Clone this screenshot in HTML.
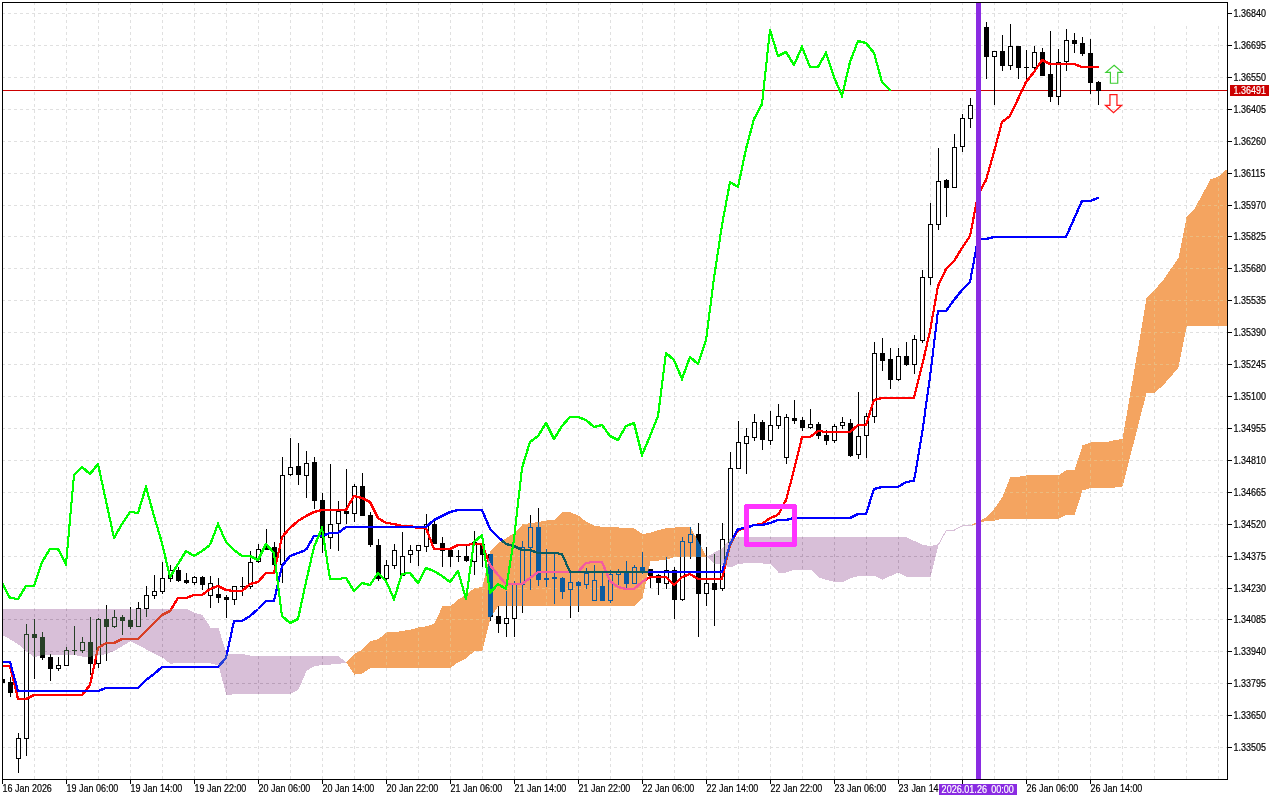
<!DOCTYPE html>
<html><head><meta charset="utf-8"><title>GBPUSD H1 Ichimoku</title>
<style>
html,body{margin:0;padding:0;background:#fff;width:1280px;height:800px;overflow:hidden}
svg{position:absolute;left:0;top:0;display:block}
text{font-family:"Liberation Sans",sans-serif;font-size:10.4px;fill:#000;stroke:#000;stroke-width:0.2px}
.w{fill:#fff}
.wt{fill:#fff;stroke:#fff}
</style></head><body>
<svg width="1280" height="800" viewBox="0 0 1280 800">
<defs><clipPath id="cp"><rect x="3" y="3" width="1224" height="776"/></clipPath><clipPath id="oc"><polygon points="346.5,662.5 354.5,653.5 362.5,649.5 370.5,641 378.5,639 386.5,632.5 394.5,632 402.5,631 410.5,629.5 418.5,627.5 426.5,626.25 434.5,623.5 442.5,606 450.5,606 458.5,599.5 466.5,594.5 474.5,588 482.5,587 490.5,551 498.5,543 506.5,538 514.5,533 522.5,524.5 530.5,523 538.5,522 546.5,520.5 554.5,519.5 562.5,511.5 570.5,512.5 578.5,515.5 586.5,522 594.5,526 602.5,526.75 610.5,527 618.5,527.5 626.5,527.75 634.5,528.5 642.5,534 650.5,532.75 658.5,530 666.5,528 674.5,527.5 682.5,527 690.5,527 698.5,542 706.5,556.5 706.5,556.5 698.5,557 690.5,557 682.5,557 674.5,557 666.5,559.75 658.5,560.5 650.5,561 642.5,598 634.5,605.75 626.5,606 618.5,606 610.5,606 602.5,606 594.5,606 586.5,606 578.5,606 570.5,606 562.5,606 554.5,606 546.5,606 538.5,606 530.5,606 522.5,606 514.5,606 506.5,606 498.5,606 490.5,617.5 482.5,650.5 474.5,651 466.5,658 458.5,662 450.5,667.75 442.5,667.75 434.5,667.75 426.5,667.75 418.5,667.75 410.5,667.75 402.5,667.75 394.5,667.75 386.5,667.75 378.5,667.75 370.5,668 362.5,673.5 354.5,674.5 346.5,662.5"/><polygon points="970.5,525.5 978.5,521 986.5,517 994.5,508.5 1002.5,497 1010.5,477 1018.5,476.75 1026.5,475.4 1034.5,475.4 1042.5,475.4 1050.5,475.4 1058.5,475.25 1066.5,470.25 1074.5,470 1082.5,445.5 1090.5,442.5 1098.5,442.25 1106.5,442.25 1114.5,440 1122.5,439 1130.5,392.3 1138.5,345.7 1146.5,298.5 1154.5,290 1162.5,281 1170.5,269.5 1178.5,258 1186.5,217.5 1194.5,209 1202.5,194 1210.5,179.5 1218.5,176.5 1226.5,169.5 1234.5,163 1234.5,326 1226.5,326 1218.5,326 1210.5,326 1202.5,326 1194.5,326 1186.5,326.5 1178.5,367.5 1170.5,377 1162.5,386 1154.5,392.6 1146.5,393 1138.5,424 1130.5,455.3 1122.5,486.5 1114.5,487.5 1106.5,487.75 1098.5,488 1090.5,488 1082.5,490.5 1074.5,514.75 1066.5,515 1058.5,518.75 1050.5,518.75 1042.5,518.75 1034.5,518.75 1026.5,518.75 1018.5,518.75 1010.5,518.75 1002.5,518.75 994.5,520.6 986.5,520.75 978.5,523.5 970.5,525.5"/></clipPath></defs>
<rect x="0" y="0" width="1280" height="800" fill="#fff"/>
<g clip-path="url(#cp)">
<rect x="0" y="0" width="1280" height="800" fill="#fff"/>
<g shape-rendering="crispEdges" stroke="#e0e0e0" stroke-width="1" stroke-dasharray="3 3" fill="none">
<path d="M2 13.5H1227"/><path d="M2 45.5H1227"/><path d="M2 77.5H1227"/><path d="M2 109.5H1227"/><path d="M2 141.5H1227"/><path d="M2 173.5H1227"/><path d="M2 205.5H1227"/><path d="M2 236.5H1227"/><path d="M2 268.5H1227"/><path d="M2 300.5H1227"/><path d="M2 332.5H1227"/><path d="M2 364.5H1227"/><path d="M2 396.5H1227"/><path d="M2 428.5H1227"/><path d="M2 460.5H1227"/><path d="M2 492.5H1227"/><path d="M2 524.5H1227"/><path d="M2 556.5H1227"/><path d="M2 588.5H1227"/><path d="M2 619.5H1227"/><path d="M2 651.5H1227"/><path d="M2 683.5H1227"/><path d="M2 715.5H1227"/><path d="M2 747.5H1227"/><path d="M34.5 2V779"/><path d="M66.5 2V779"/><path d="M98.5 2V779"/><path d="M130.5 2V779"/><path d="M162.5 2V779"/><path d="M194.5 2V779"/><path d="M226.5 2V779"/><path d="M258.5 2V779"/><path d="M290.5 2V779"/><path d="M322.5 2V779"/><path d="M354.5 2V779"/><path d="M386.5 2V779"/><path d="M418.5 2V779"/><path d="M450.5 2V779"/><path d="M482.5 2V779"/><path d="M514.5 2V779"/><path d="M546.5 2V779"/><path d="M578.5 2V779"/><path d="M610.5 2V779"/><path d="M642.5 2V779"/><path d="M674.5 2V779"/><path d="M706.5 2V779"/><path d="M738.5 2V779"/><path d="M770.5 2V779"/><path d="M802.5 2V779"/><path d="M834.5 2V779"/><path d="M866.5 2V779"/><path d="M898.5 2V779"/><path d="M930.5 2V779"/><path d="M962.5 2V779"/><path d="M994.5 2V779"/><path d="M1026.5 2V779"/><path d="M1058.5 2V779"/><path d="M1090.5 2V779"/><path d="M1122.5 2V779"/><path d="M1154.5 2V779"/><path d="M1186.5 2V779"/><path d="M1218.5 2V779"/>
</g>
<rect x="3" y="90" width="1224" height="1" fill="#cc0000" shape-rendering="crispEdges"/>
<g shape-rendering="crispEdges" fill="#000">
<rect x="2" y="679" width="1" height="4"/><rect x="0" y="679" width="5" height="4"/><rect x="10" y="677" width="1" height="20"/><rect x="8" y="682" width="5" height="11"/><rect x="18" y="733" width="1" height="40"/><rect x="16" y="738" width="5" height="21"/><rect fill="#fff" x="17" y="739" width="3" height="19"/><rect x="26" y="624" width="1" height="132"/><rect x="24" y="634" width="5" height="105"/><rect fill="#fff" x="25" y="635" width="3" height="103"/><rect x="34" y="619" width="1" height="60"/><rect x="32" y="634" width="5" height="4"/><rect x="42" y="632" width="1" height="28"/><rect x="40" y="637" width="5" height="21"/><rect x="50" y="654" width="1" height="27"/><rect x="48" y="657" width="5" height="12"/><rect x="58" y="657" width="1" height="14"/><rect x="56" y="665" width="5" height="4"/><rect fill="#fff" x="57" y="666" width="3" height="2"/><rect x="66" y="647" width="1" height="19"/><rect x="64" y="650" width="5" height="16"/><rect fill="#fff" x="65" y="651" width="3" height="14"/><rect x="74" y="626" width="1" height="29"/><rect x="72" y="650" width="5" height="1"/><rect x="82" y="637" width="1" height="16"/><rect x="80" y="642" width="5" height="9"/><rect fill="#fff" x="81" y="643" width="3" height="7"/><rect x="90" y="617" width="1" height="58"/><rect x="88" y="642" width="5" height="22"/><rect x="98" y="618" width="1" height="50"/><rect x="96" y="619" width="5" height="45"/><rect fill="#fff" x="97" y="620" width="3" height="43"/><rect x="106" y="605" width="1" height="56"/><rect x="104" y="619" width="5" height="8"/><rect x="114" y="610" width="1" height="18"/><rect x="112" y="617" width="5" height="10"/><rect fill="#fff" x="113" y="618" width="3" height="8"/><rect x="122" y="615" width="1" height="20"/><rect x="120" y="617" width="5" height="4"/><rect x="130" y="607" width="1" height="22"/><rect x="128" y="620" width="5" height="7"/><rect x="138" y="602" width="1" height="25"/><rect x="136" y="608" width="5" height="19"/><rect fill="#fff" x="137" y="609" width="3" height="17"/><rect x="146" y="586" width="1" height="31"/><rect x="144" y="595" width="5" height="14"/><rect fill="#fff" x="145" y="596" width="3" height="12"/><rect x="154" y="575" width="1" height="24"/><rect x="152" y="591" width="5" height="5"/><rect fill="#fff" x="153" y="592" width="3" height="3"/><rect x="162" y="562" width="1" height="32"/><rect x="160" y="578" width="5" height="14"/><rect fill="#fff" x="161" y="579" width="3" height="12"/><rect x="170" y="565" width="1" height="17"/><rect x="168" y="570" width="5" height="9"/><rect fill="#fff" x="169" y="571" width="3" height="7"/><rect x="178" y="567" width="1" height="15"/><rect x="176" y="570" width="5" height="11"/><rect x="186" y="573" width="1" height="11"/><rect x="184" y="580" width="5" height="3"/><rect x="194" y="576" width="1" height="9"/><rect x="192" y="577" width="5" height="6"/><rect fill="#fff" x="193" y="578" width="3" height="4"/><rect x="202" y="576" width="1" height="14"/><rect x="200" y="577" width="5" height="8"/><rect x="210" y="576" width="1" height="32"/><rect x="208" y="583" width="5" height="13"/><rect fill="#fff" x="209" y="584" width="3" height="11"/><rect x="218" y="578" width="1" height="25"/><rect x="216" y="594" width="5" height="4"/><rect x="226" y="595" width="1" height="23"/><rect x="224" y="597" width="5" height="3"/><rect x="234" y="586" width="1" height="19"/><rect x="232" y="586" width="5" height="14"/><rect fill="#fff" x="233" y="587" width="3" height="12"/><rect x="242" y="577" width="1" height="19"/><rect x="240" y="586" width="5" height="1"/><rect x="250" y="551" width="1" height="38"/><rect x="248" y="562" width="5" height="25"/><rect fill="#fff" x="249" y="563" width="3" height="23"/><rect x="258" y="544" width="1" height="19"/><rect x="256" y="549" width="5" height="13"/><rect fill="#fff" x="257" y="550" width="3" height="11"/><rect x="266" y="529" width="1" height="21"/><rect x="264" y="547" width="5" height="3"/><rect x="274" y="542" width="1" height="28"/><rect x="272" y="547" width="5" height="18"/><rect x="282" y="457" width="1" height="126"/><rect x="280" y="475" width="5" height="90"/><rect fill="#fff" x="281" y="476" width="3" height="88"/><rect x="290" y="438" width="1" height="38"/><rect x="288" y="467" width="5" height="8"/><rect fill="#fff" x="289" y="468" width="3" height="6"/><rect x="298" y="443" width="1" height="42"/><rect x="296" y="466" width="5" height="9"/><rect x="306" y="451" width="1" height="47"/><rect x="304" y="463" width="5" height="13"/><rect fill="#fff" x="305" y="464" width="3" height="11"/><rect x="314" y="457" width="1" height="52"/><rect x="312" y="462" width="5" height="39"/><rect x="322" y="493" width="1" height="60"/><rect x="320" y="500" width="5" height="38"/><rect x="330" y="464" width="1" height="85"/><rect x="328" y="524" width="5" height="14"/><rect fill="#fff" x="329" y="525" width="3" height="12"/><rect x="338" y="501" width="1" height="50"/><rect x="336" y="511" width="5" height="13"/><rect fill="#fff" x="337" y="512" width="3" height="11"/><rect x="346" y="469" width="1" height="55"/><rect x="344" y="511" width="5" height="3"/><rect x="354" y="484" width="1" height="38"/><rect x="352" y="486" width="5" height="28"/><rect fill="#fff" x="353" y="487" width="3" height="26"/><rect x="362" y="473" width="1" height="43"/><rect x="360" y="486" width="5" height="30"/><rect x="370" y="512" width="1" height="35"/><rect x="368" y="515" width="5" height="30"/><rect x="378" y="539" width="1" height="42"/><rect x="376" y="545" width="5" height="34"/><rect x="386" y="560" width="1" height="23"/><rect x="384" y="565" width="5" height="14"/><rect fill="#fff" x="385" y="566" width="3" height="12"/><rect x="394" y="544" width="1" height="25"/><rect x="392" y="550" width="5" height="16"/><rect fill="#fff" x="393" y="551" width="3" height="14"/><rect x="402" y="532" width="1" height="44"/><rect x="400" y="556" width="5" height="20"/><rect fill="#fff" x="401" y="557" width="3" height="18"/><rect x="410" y="545" width="1" height="18"/><rect x="408" y="550" width="5" height="5"/><rect fill="#fff" x="409" y="551" width="3" height="3"/><rect x="418" y="545" width="1" height="21"/><rect x="416" y="545" width="5" height="6"/><rect fill="#fff" x="417" y="546" width="3" height="4"/><rect x="426" y="514" width="1" height="38"/><rect x="424" y="524" width="5" height="23"/><rect fill="#fff" x="425" y="525" width="3" height="21"/><rect x="434" y="519" width="1" height="25"/><rect x="432" y="524" width="5" height="20"/><rect x="442" y="537" width="1" height="30"/><rect x="440" y="543" width="5" height="8"/><rect x="450" y="550" width="1" height="17"/><rect x="448" y="550" width="5" height="7"/><rect x="458" y="550" width="1" height="12"/><rect x="456" y="556" width="5" height="1"/><rect x="466" y="546" width="1" height="16"/><rect x="464" y="556" width="5" height="5"/><rect x="474" y="531" width="1" height="44"/><rect x="472" y="542" width="5" height="20"/><rect fill="#fff" x="473" y="543" width="3" height="18"/><rect x="482" y="538" width="1" height="29"/><rect x="480" y="544" width="5" height="11"/><rect x="490" y="554" width="1" height="67"/><rect x="488" y="554" width="5" height="63"/><rect x="498" y="606" width="1" height="27"/><rect x="496" y="616" width="5" height="8"/><rect x="506" y="591" width="1" height="46"/><rect x="504" y="618" width="5" height="6"/><rect fill="#fff" x="505" y="619" width="3" height="4"/><rect x="514" y="581" width="1" height="56"/><rect x="512" y="583" width="5" height="36"/><rect fill="#fff" x="513" y="584" width="3" height="34"/><rect x="522" y="541" width="1" height="72"/><rect x="520" y="547" width="5" height="38"/><rect fill="#fff" x="521" y="548" width="3" height="36"/><rect x="530" y="515" width="1" height="75"/><rect x="528" y="527" width="5" height="21"/><rect fill="#fff" x="529" y="528" width="3" height="19"/><rect x="538" y="508" width="1" height="78"/><rect x="536" y="527" width="5" height="53"/><rect x="546" y="549" width="1" height="38"/><rect x="544" y="578" width="5" height="2"/><rect x="554" y="554" width="1" height="50"/><rect x="552" y="577" width="5" height="2"/><rect x="562" y="577" width="1" height="22"/><rect x="560" y="578" width="5" height="14"/><rect x="570" y="573" width="1" height="45"/><rect x="568" y="582" width="5" height="8"/><rect fill="#fff" x="569" y="583" width="3" height="6"/><rect x="578" y="581" width="1" height="31"/><rect x="576" y="582" width="5" height="4"/><rect x="586" y="568" width="1" height="21"/><rect x="584" y="573" width="5" height="12"/><rect fill="#fff" x="585" y="574" width="3" height="10"/><rect x="594" y="565" width="1" height="36"/><rect x="592" y="580" width="5" height="21"/><rect fill="#fff" x="593" y="581" width="3" height="19"/><rect x="602" y="573" width="1" height="28"/><rect x="600" y="586" width="5" height="15"/><rect x="610" y="570" width="1" height="33"/><rect x="608" y="574" width="5" height="27"/><rect fill="#fff" x="609" y="575" width="3" height="25"/><rect x="618" y="569" width="1" height="16"/><rect x="616" y="572" width="5" height="3"/><rect fill="#fff" x="617" y="573" width="3" height="1"/><rect x="626" y="561" width="1" height="27"/><rect x="624" y="572" width="5" height="12"/><rect x="634" y="565" width="1" height="19"/><rect x="632" y="567" width="5" height="17"/><rect fill="#fff" x="633" y="568" width="3" height="15"/><rect x="642" y="552" width="1" height="22"/><rect x="640" y="567" width="5" height="5"/><rect x="650" y="569" width="1" height="19"/><rect x="648" y="569" width="5" height="7"/><rect x="658" y="574" width="1" height="21"/><rect x="656" y="575" width="5" height="8"/><rect x="666" y="557" width="1" height="32"/><rect x="664" y="570" width="5" height="14"/><rect fill="#fff" x="665" y="571" width="3" height="12"/><rect x="674" y="567" width="1" height="52"/><rect x="672" y="570" width="5" height="30"/><rect x="682" y="537" width="1" height="64"/><rect x="680" y="541" width="5" height="59"/><rect fill="#fff" x="681" y="542" width="3" height="57"/><rect x="690" y="527" width="1" height="32"/><rect x="688" y="534" width="5" height="9"/><rect fill="#fff" x="689" y="535" width="3" height="7"/><rect x="698" y="523" width="1" height="114"/><rect x="696" y="534" width="5" height="60"/><rect x="706" y="547" width="1" height="59"/><rect x="704" y="583" width="5" height="11"/><rect fill="#fff" x="705" y="584" width="3" height="9"/><rect x="714" y="554" width="1" height="72"/><rect x="712" y="583" width="5" height="7"/><rect x="722" y="523" width="1" height="68"/><rect x="720" y="539" width="5" height="50"/><rect fill="#fff" x="721" y="540" width="3" height="48"/><rect x="730" y="452" width="1" height="91"/><rect x="728" y="468" width="5" height="75"/><rect fill="#fff" x="729" y="469" width="3" height="73"/><rect x="738" y="421" width="1" height="48"/><rect x="736" y="442" width="5" height="27"/><rect fill="#fff" x="737" y="443" width="3" height="25"/><rect x="746" y="428" width="1" height="46"/><rect x="744" y="436" width="5" height="8"/><rect fill="#fff" x="745" y="437" width="3" height="6"/><rect x="754" y="414" width="1" height="27"/><rect x="752" y="422" width="5" height="16"/><rect fill="#fff" x="753" y="423" width="3" height="14"/><rect x="762" y="420" width="1" height="30"/><rect x="760" y="422" width="5" height="18"/><rect x="770" y="411" width="1" height="34"/><rect x="768" y="425" width="5" height="16"/><rect fill="#fff" x="769" y="426" width="3" height="14"/><rect x="778" y="404" width="1" height="25"/><rect x="776" y="416" width="5" height="10"/><rect fill="#fff" x="777" y="417" width="3" height="8"/><rect x="786" y="414" width="1" height="50"/><rect x="784" y="417" width="5" height="41"/><rect fill="#fff" x="785" y="418" width="3" height="39"/><rect x="794" y="400" width="1" height="24"/><rect x="792" y="418" width="5" height="3"/><rect x="802" y="417" width="1" height="14"/><rect x="800" y="420" width="5" height="8"/><rect x="810" y="409" width="1" height="20"/><rect x="808" y="424" width="5" height="4"/><rect fill="#fff" x="809" y="425" width="3" height="2"/><rect x="818" y="422" width="1" height="17"/><rect x="816" y="424" width="5" height="12"/><rect x="826" y="430" width="1" height="15"/><rect x="824" y="435" width="5" height="6"/><rect x="834" y="424" width="1" height="19"/><rect x="832" y="426" width="5" height="15"/><rect fill="#fff" x="833" y="427" width="3" height="13"/><rect x="842" y="417" width="1" height="12"/><rect x="840" y="422" width="5" height="4"/><rect fill="#fff" x="841" y="423" width="3" height="2"/><rect x="850" y="419" width="1" height="38"/><rect x="848" y="423" width="5" height="33"/><rect x="858" y="392" width="1" height="67"/><rect x="856" y="436" width="5" height="19"/><rect fill="#fff" x="857" y="437" width="3" height="17"/><rect x="866" y="413" width="1" height="45"/><rect x="864" y="416" width="5" height="20"/><rect fill="#fff" x="865" y="417" width="3" height="18"/><rect x="874" y="342" width="1" height="81"/><rect x="872" y="353" width="5" height="64"/><rect fill="#fff" x="873" y="354" width="3" height="62"/><rect x="882" y="338" width="1" height="33"/><rect x="880" y="353" width="5" height="8"/><rect x="890" y="348" width="1" height="41"/><rect x="888" y="359" width="5" height="21"/><rect x="898" y="348" width="1" height="33"/><rect x="896" y="356" width="5" height="24"/><rect fill="#fff" x="897" y="357" width="3" height="22"/><rect x="906" y="342" width="1" height="24"/><rect x="904" y="356" width="5" height="9"/><rect x="914" y="335" width="1" height="39"/><rect x="912" y="339" width="5" height="26"/><rect fill="#fff" x="913" y="340" width="3" height="24"/><rect x="922" y="270" width="1" height="73"/><rect x="920" y="277" width="5" height="64"/><rect fill="#fff" x="921" y="278" width="3" height="62"/><rect x="930" y="203" width="1" height="82"/><rect x="928" y="224" width="5" height="54"/><rect fill="#fff" x="929" y="225" width="3" height="52"/><rect x="938" y="148" width="1" height="82"/><rect x="936" y="181" width="5" height="44"/><rect fill="#fff" x="937" y="182" width="3" height="42"/><rect x="946" y="179" width="1" height="38"/><rect x="944" y="180" width="5" height="8"/><rect x="954" y="134" width="1" height="54"/><rect x="952" y="147" width="5" height="41"/><rect fill="#fff" x="953" y="148" width="3" height="39"/><rect x="962" y="114" width="1" height="38"/><rect x="960" y="118" width="5" height="29"/><rect fill="#fff" x="961" y="119" width="3" height="27"/><rect x="970" y="98" width="1" height="30"/><rect x="968" y="105" width="5" height="14"/><rect fill="#fff" x="969" y="106" width="3" height="12"/><rect x="978" y="25" width="1" height="85"/><rect x="976" y="30" width="5" height="76"/><rect fill="#fff" x="977" y="31" width="3" height="74"/><rect x="986" y="22" width="1" height="57"/><rect x="984" y="27" width="5" height="30"/><rect x="994" y="51" width="1" height="54"/><rect x="992" y="51" width="5" height="6"/><rect fill="#fff" x="993" y="52" width="3" height="4"/><rect x="1002" y="35" width="1" height="36"/><rect x="1000" y="51" width="5" height="15"/><rect x="1010" y="24" width="1" height="46"/><rect x="1008" y="46" width="5" height="20"/><rect fill="#fff" x="1009" y="47" width="3" height="18"/><rect x="1018" y="46" width="1" height="33"/><rect x="1016" y="46" width="5" height="22"/><rect x="1026" y="50" width="1" height="33"/><rect x="1024" y="67" width="5" height="1"/><rect x="1034" y="46" width="1" height="24"/><rect x="1032" y="52" width="5" height="16"/><rect fill="#fff" x="1033" y="53" width="3" height="14"/><rect x="1042" y="48" width="1" height="28"/><rect x="1040" y="52" width="5" height="24"/><rect x="1050" y="31" width="1" height="71"/><rect x="1048" y="74" width="5" height="23"/><rect x="1058" y="49" width="1" height="56"/><rect x="1056" y="62" width="5" height="35"/><rect fill="#fff" x="1057" y="63" width="3" height="33"/><rect x="1066" y="29" width="1" height="42"/><rect x="1064" y="40" width="5" height="22"/><rect fill="#fff" x="1065" y="41" width="3" height="20"/><rect x="1074" y="33" width="1" height="20"/><rect x="1072" y="40" width="5" height="4"/><rect x="1082" y="37" width="1" height="19"/><rect x="1080" y="43" width="5" height="11"/><rect x="1090" y="39" width="1" height="55"/><rect x="1088" y="53" width="5" height="30"/><rect x="1098" y="81" width="1" height="24"/><rect x="1096" y="82" width="5" height="9"/>
</g>
<g fill="none" stroke="#ff0000" stroke-width="1" stroke-linecap="square" stroke-linejoin="miter" shape-rendering="crispEdges" ><polyline points="1.5,665.5 9.5,665.5 17.5,698.5 25.5,698.5 33.5,694.5 41.5,694.5 49.5,694.5 57.5,694.5 65.5,694.5 73.5,694.5 81.5,694.5 89.5,684.5 97.5,647.5 105.5,642.5 113.5,642.5 121.5,638.5 129.5,638.5 137.5,638.5 145.5,630.5 153.5,622.5 161.5,614.5 169.5,610.5 177.5,597.5 185.5,597.5 193.5,594.5 201.5,594.5 209.5,588.5 217.5,585.5 225.5,589.5 233.5,590.5 241.5,590.5 249.5,583.5 257.5,581.5 265.5,572.5 273.5,572.5 281.5,536.5 289.5,527.5 297.5,520.5 305.5,515.5 313.5,511.5 321.5,509.5 329.5,509.5 337.5,509.5 345.5,509.5 353.5,495.5 361.5,497.5 369.5,501.5 377.5,517.5 385.5,522.5 393.5,523.5 401.5,525.5 409.5,525.5 417.5,527.5 425.5,527.5 433.5,548.5 441.5,548.5 449.5,548.5 457.5,544.5 465.5,544.5 473.5,543.5 481.5,543.5 489.5,564.5 497.5,574.5 505.5,583.5 513.5,583.5 521.5,583.5 529.5,577.5 537.5,571.5 545.5,571.5 553.5,571.5 561.5,571.5 569.5,571.5 577.5,571.5 585.5,562.5 593.5,561.5 601.5,561.5 609.5,580.5 617.5,586.5 625.5,588.5 633.5,588.5 641.5,581.5 649.5,576.5 657.5,576.5 665.5,576.5 673.5,584.5 681.5,576.5 689.5,573.5 697.5,578.5 705.5,578.5 713.5,578.5 721.5,578.5 729.5,544.5 737.5,529.5 745.5,527.5 753.5,524.5 761.5,523.5 769.5,517.5 777.5,514.5 785.5,499.5 793.5,469.5 801.5,436.5 809.5,436.5 817.5,430.5 825.5,431.5 833.5,431.5 841.5,431.5 849.5,431.5 857.5,424.5 865.5,424.5 873.5,399.5 881.5,397.5 889.5,397.5 897.5,397.5 905.5,397.5 913.5,397.5 921.5,365.5 929.5,330.5 937.5,285.5 945.5,268.5 953.5,260.5 961.5,247.5 969.5,235.5 977.5,194.5 985.5,179.5 993.5,151.5 1001.5,121.5 1009.5,115.5 1017.5,98.5 1025.5,81.5 1033.5,71.5 1041.5,59.5 1049.5,63.5 1057.5,63.5 1065.5,63.5 1073.5,63.5 1081.5,66.5 1089.5,66.5 1097.5,66.5"/><polyline points="2.5,665.5 10.5,665.5 18.5,698.5 26.5,698.5 34.5,694.5 42.5,694.5 50.5,694.5 58.5,694.5 66.5,694.5 74.5,694.5 82.5,694.5 90.5,684.5 98.5,647.5 106.5,642.5 114.5,642.5 122.5,638.5 130.5,638.5 138.5,638.5 146.5,630.5 154.5,622.5 162.5,614.5 170.5,610.5 178.5,597.5 186.5,597.5 194.5,594.5 202.5,594.5 210.5,588.5 218.5,585.5 226.5,589.5 234.5,590.5 242.5,590.5 250.5,583.5 258.5,581.5 266.5,572.5 274.5,572.5 282.5,536.5 290.5,527.5 298.5,520.5 306.5,515.5 314.5,511.5 322.5,509.5 330.5,509.5 338.5,509.5 346.5,509.5 354.5,495.5 362.5,497.5 370.5,501.5 378.5,517.5 386.5,522.5 394.5,523.5 402.5,525.5 410.5,525.5 418.5,527.5 426.5,527.5 434.5,548.5 442.5,548.5 450.5,548.5 458.5,544.5 466.5,544.5 474.5,543.5 482.5,543.5 490.5,564.5 498.5,574.5 506.5,583.5 514.5,583.5 522.5,583.5 530.5,577.5 538.5,571.5 546.5,571.5 554.5,571.5 562.5,571.5 570.5,571.5 578.5,571.5 586.5,562.5 594.5,561.5 602.5,561.5 610.5,580.5 618.5,586.5 626.5,588.5 634.5,588.5 642.5,581.5 650.5,576.5 658.5,576.5 666.5,576.5 674.5,584.5 682.5,576.5 690.5,573.5 698.5,578.5 706.5,578.5 714.5,578.5 722.5,578.5 730.5,544.5 738.5,529.5 746.5,527.5 754.5,524.5 762.5,523.5 770.5,517.5 778.5,514.5 786.5,499.5 794.5,469.5 802.5,436.5 810.5,436.5 818.5,430.5 826.5,431.5 834.5,431.5 842.5,431.5 850.5,431.5 858.5,424.5 866.5,424.5 874.5,399.5 882.5,397.5 890.5,397.5 898.5,397.5 906.5,397.5 914.5,397.5 922.5,365.5 930.5,330.5 938.5,285.5 946.5,268.5 954.5,260.5 962.5,247.5 970.5,235.5 978.5,194.5 986.5,179.5 994.5,151.5 1002.5,121.5 1010.5,115.5 1018.5,98.5 1026.5,81.5 1034.5,71.5 1042.5,59.5 1050.5,63.5 1058.5,63.5 1066.5,63.5 1074.5,63.5 1082.5,66.5 1090.5,66.5 1098.5,66.5"/><polyline points="1.5,666.5 9.5,666.5 17.5,699.5 25.5,699.5 33.5,695.5 41.5,695.5 49.5,695.5 57.5,695.5 65.5,695.5 73.5,695.5 81.5,695.5 89.5,685.5 97.5,648.5 105.5,643.5 113.5,643.5 121.5,639.5 129.5,639.5 137.5,639.5 145.5,631.5 153.5,623.5 161.5,615.5 169.5,611.5 177.5,598.5 185.5,598.5 193.5,595.5 201.5,595.5 209.5,589.5 217.5,586.5 225.5,590.5 233.5,591.5 241.5,591.5 249.5,584.5 257.5,582.5 265.5,573.5 273.5,573.5 281.5,537.5 289.5,528.5 297.5,521.5 305.5,516.5 313.5,512.5 321.5,510.5 329.5,510.5 337.5,510.5 345.5,510.5 353.5,496.5 361.5,498.5 369.5,502.5 377.5,518.5 385.5,523.5 393.5,524.5 401.5,526.5 409.5,526.5 417.5,528.5 425.5,528.5 433.5,549.5 441.5,549.5 449.5,549.5 457.5,545.5 465.5,545.5 473.5,544.5 481.5,544.5 489.5,565.5 497.5,575.5 505.5,584.5 513.5,584.5 521.5,584.5 529.5,578.5 537.5,572.5 545.5,572.5 553.5,572.5 561.5,572.5 569.5,572.5 577.5,572.5 585.5,563.5 593.5,562.5 601.5,562.5 609.5,581.5 617.5,587.5 625.5,589.5 633.5,589.5 641.5,582.5 649.5,577.5 657.5,577.5 665.5,577.5 673.5,585.5 681.5,577.5 689.5,574.5 697.5,579.5 705.5,579.5 713.5,579.5 721.5,579.5 729.5,545.5 737.5,530.5 745.5,528.5 753.5,525.5 761.5,524.5 769.5,518.5 777.5,515.5 785.5,500.5 793.5,470.5 801.5,437.5 809.5,437.5 817.5,431.5 825.5,432.5 833.5,432.5 841.5,432.5 849.5,432.5 857.5,425.5 865.5,425.5 873.5,400.5 881.5,398.5 889.5,398.5 897.5,398.5 905.5,398.5 913.5,398.5 921.5,366.5 929.5,331.5 937.5,286.5 945.5,269.5 953.5,261.5 961.5,248.5 969.5,236.5 977.5,195.5 985.5,180.5 993.5,152.5 1001.5,122.5 1009.5,116.5 1017.5,99.5 1025.5,82.5 1033.5,72.5 1041.5,60.5 1049.5,64.5 1057.5,64.5 1065.5,64.5 1073.5,64.5 1081.5,67.5 1089.5,67.5 1097.5,67.5"/><polyline points="2.5,666.5 10.5,666.5 18.5,699.5 26.5,699.5 34.5,695.5 42.5,695.5 50.5,695.5 58.5,695.5 66.5,695.5 74.5,695.5 82.5,695.5 90.5,685.5 98.5,648.5 106.5,643.5 114.5,643.5 122.5,639.5 130.5,639.5 138.5,639.5 146.5,631.5 154.5,623.5 162.5,615.5 170.5,611.5 178.5,598.5 186.5,598.5 194.5,595.5 202.5,595.5 210.5,589.5 218.5,586.5 226.5,590.5 234.5,591.5 242.5,591.5 250.5,584.5 258.5,582.5 266.5,573.5 274.5,573.5 282.5,537.5 290.5,528.5 298.5,521.5 306.5,516.5 314.5,512.5 322.5,510.5 330.5,510.5 338.5,510.5 346.5,510.5 354.5,496.5 362.5,498.5 370.5,502.5 378.5,518.5 386.5,523.5 394.5,524.5 402.5,526.5 410.5,526.5 418.5,528.5 426.5,528.5 434.5,549.5 442.5,549.5 450.5,549.5 458.5,545.5 466.5,545.5 474.5,544.5 482.5,544.5 490.5,565.5 498.5,575.5 506.5,584.5 514.5,584.5 522.5,584.5 530.5,578.5 538.5,572.5 546.5,572.5 554.5,572.5 562.5,572.5 570.5,572.5 578.5,572.5 586.5,563.5 594.5,562.5 602.5,562.5 610.5,581.5 618.5,587.5 626.5,589.5 634.5,589.5 642.5,582.5 650.5,577.5 658.5,577.5 666.5,577.5 674.5,585.5 682.5,577.5 690.5,574.5 698.5,579.5 706.5,579.5 714.5,579.5 722.5,579.5 730.5,545.5 738.5,530.5 746.5,528.5 754.5,525.5 762.5,524.5 770.5,518.5 778.5,515.5 786.5,500.5 794.5,470.5 802.5,437.5 810.5,437.5 818.5,431.5 826.5,432.5 834.5,432.5 842.5,432.5 850.5,432.5 858.5,425.5 866.5,425.5 874.5,400.5 882.5,398.5 890.5,398.5 898.5,398.5 906.5,398.5 914.5,398.5 922.5,366.5 930.5,331.5 938.5,286.5 946.5,269.5 954.5,261.5 962.5,248.5 970.5,236.5 978.5,195.5 986.5,180.5 994.5,152.5 1002.5,122.5 1010.5,116.5 1018.5,99.5 1026.5,82.5 1034.5,72.5 1042.5,60.5 1050.5,64.5 1058.5,64.5 1066.5,64.5 1074.5,64.5 1082.5,67.5 1090.5,67.5 1098.5,67.5"/></g>
<g fill="none" stroke="#0000ff" stroke-width="1" stroke-linecap="square" stroke-linejoin="miter" shape-rendering="crispEdges" ><polyline points="1.5,661.5 9.5,661.5 17.5,690.5 25.5,690.5 33.5,690.5 41.5,690.5 49.5,690.5 57.5,690.5 65.5,690.5 73.5,690.5 81.5,690.5 89.5,690.5 97.5,690.5 105.5,687.5 113.5,687.5 121.5,687.5 129.5,687.5 137.5,687.5 145.5,679.5 153.5,673.5 161.5,666.5 169.5,666.5 177.5,666.5 185.5,666.5 193.5,666.5 201.5,666.5 209.5,666.5 217.5,666.5 225.5,657.5 233.5,620.5 241.5,620.5 249.5,615.5 257.5,608.5 265.5,600.5 273.5,600.5 281.5,565.5 289.5,555.5 297.5,552.5 305.5,549.5 313.5,535.5 321.5,535.5 329.5,532.5 337.5,532.5 345.5,526.5 353.5,526.5 361.5,526.5 369.5,526.5 377.5,526.5 385.5,526.5 393.5,526.5 401.5,526.5 409.5,526.5 417.5,526.5 425.5,526.5 433.5,519.5 441.5,515.5 449.5,511.5 457.5,509.5 465.5,509.5 473.5,509.5 481.5,509.5 489.5,528.5 497.5,536.5 505.5,543.5 513.5,545.5 521.5,549.5 529.5,549.5 537.5,552.5 545.5,552.5 553.5,552.5 561.5,553.5 569.5,571.5 577.5,571.5 585.5,571.5 593.5,571.5 601.5,571.5 609.5,571.5 617.5,571.5 625.5,571.5 633.5,571.5 641.5,571.5 649.5,571.5 657.5,571.5 665.5,571.5 673.5,571.5 681.5,571.5 689.5,571.5 697.5,571.5 705.5,571.5 713.5,571.5 721.5,571.5 729.5,543.5 737.5,528.5 745.5,527.5 753.5,524.5 761.5,524.5 769.5,522.5 777.5,519.5 785.5,519.5 793.5,517.5 801.5,517.5 809.5,517.5 817.5,517.5 825.5,517.5 833.5,517.5 841.5,517.5 849.5,517.5 857.5,513.5 865.5,513.5 873.5,488.5 881.5,486.5 889.5,486.5 897.5,486.5 905.5,481.5 913.5,480.5 921.5,433.5 929.5,376.5 937.5,310.5 945.5,310.5 953.5,299.5 961.5,289.5 969.5,281.5 977.5,238.5 985.5,238.5 993.5,236.5 1001.5,236.5 1009.5,236.5 1017.5,236.5 1025.5,236.5 1033.5,236.5 1041.5,236.5 1049.5,236.5 1057.5,236.5 1065.5,236.5 1073.5,218.5 1081.5,200.5 1089.5,200.5 1097.5,197.5"/><polyline points="2.5,661.5 10.5,661.5 18.5,690.5 26.5,690.5 34.5,690.5 42.5,690.5 50.5,690.5 58.5,690.5 66.5,690.5 74.5,690.5 82.5,690.5 90.5,690.5 98.5,690.5 106.5,687.5 114.5,687.5 122.5,687.5 130.5,687.5 138.5,687.5 146.5,679.5 154.5,673.5 162.5,666.5 170.5,666.5 178.5,666.5 186.5,666.5 194.5,666.5 202.5,666.5 210.5,666.5 218.5,666.5 226.5,657.5 234.5,620.5 242.5,620.5 250.5,615.5 258.5,608.5 266.5,600.5 274.5,600.5 282.5,565.5 290.5,555.5 298.5,552.5 306.5,549.5 314.5,535.5 322.5,535.5 330.5,532.5 338.5,532.5 346.5,526.5 354.5,526.5 362.5,526.5 370.5,526.5 378.5,526.5 386.5,526.5 394.5,526.5 402.5,526.5 410.5,526.5 418.5,526.5 426.5,526.5 434.5,519.5 442.5,515.5 450.5,511.5 458.5,509.5 466.5,509.5 474.5,509.5 482.5,509.5 490.5,528.5 498.5,536.5 506.5,543.5 514.5,545.5 522.5,549.5 530.5,549.5 538.5,552.5 546.5,552.5 554.5,552.5 562.5,553.5 570.5,571.5 578.5,571.5 586.5,571.5 594.5,571.5 602.5,571.5 610.5,571.5 618.5,571.5 626.5,571.5 634.5,571.5 642.5,571.5 650.5,571.5 658.5,571.5 666.5,571.5 674.5,571.5 682.5,571.5 690.5,571.5 698.5,571.5 706.5,571.5 714.5,571.5 722.5,571.5 730.5,543.5 738.5,528.5 746.5,527.5 754.5,524.5 762.5,524.5 770.5,522.5 778.5,519.5 786.5,519.5 794.5,517.5 802.5,517.5 810.5,517.5 818.5,517.5 826.5,517.5 834.5,517.5 842.5,517.5 850.5,517.5 858.5,513.5 866.5,513.5 874.5,488.5 882.5,486.5 890.5,486.5 898.5,486.5 906.5,481.5 914.5,480.5 922.5,433.5 930.5,376.5 938.5,310.5 946.5,310.5 954.5,299.5 962.5,289.5 970.5,281.5 978.5,238.5 986.5,238.5 994.5,236.5 1002.5,236.5 1010.5,236.5 1018.5,236.5 1026.5,236.5 1034.5,236.5 1042.5,236.5 1050.5,236.5 1058.5,236.5 1066.5,236.5 1074.5,218.5 1082.5,200.5 1090.5,200.5 1098.5,197.5"/><polyline points="1.5,662.5 9.5,662.5 17.5,691.5 25.5,691.5 33.5,691.5 41.5,691.5 49.5,691.5 57.5,691.5 65.5,691.5 73.5,691.5 81.5,691.5 89.5,691.5 97.5,691.5 105.5,688.5 113.5,688.5 121.5,688.5 129.5,688.5 137.5,688.5 145.5,680.5 153.5,674.5 161.5,667.5 169.5,667.5 177.5,667.5 185.5,667.5 193.5,667.5 201.5,667.5 209.5,667.5 217.5,667.5 225.5,658.5 233.5,621.5 241.5,621.5 249.5,616.5 257.5,609.5 265.5,601.5 273.5,601.5 281.5,566.5 289.5,556.5 297.5,553.5 305.5,550.5 313.5,536.5 321.5,536.5 329.5,533.5 337.5,533.5 345.5,527.5 353.5,527.5 361.5,527.5 369.5,527.5 377.5,527.5 385.5,527.5 393.5,527.5 401.5,527.5 409.5,527.5 417.5,527.5 425.5,527.5 433.5,520.5 441.5,516.5 449.5,512.5 457.5,510.5 465.5,510.5 473.5,510.5 481.5,510.5 489.5,529.5 497.5,537.5 505.5,544.5 513.5,546.5 521.5,550.5 529.5,550.5 537.5,553.5 545.5,553.5 553.5,553.5 561.5,554.5 569.5,572.5 577.5,572.5 585.5,572.5 593.5,572.5 601.5,572.5 609.5,572.5 617.5,572.5 625.5,572.5 633.5,572.5 641.5,572.5 649.5,572.5 657.5,572.5 665.5,572.5 673.5,572.5 681.5,572.5 689.5,572.5 697.5,572.5 705.5,572.5 713.5,572.5 721.5,572.5 729.5,544.5 737.5,529.5 745.5,528.5 753.5,525.5 761.5,525.5 769.5,523.5 777.5,520.5 785.5,520.5 793.5,518.5 801.5,518.5 809.5,518.5 817.5,518.5 825.5,518.5 833.5,518.5 841.5,518.5 849.5,518.5 857.5,514.5 865.5,514.5 873.5,489.5 881.5,487.5 889.5,487.5 897.5,487.5 905.5,482.5 913.5,481.5 921.5,434.5 929.5,377.5 937.5,311.5 945.5,311.5 953.5,300.5 961.5,290.5 969.5,282.5 977.5,239.5 985.5,239.5 993.5,237.5 1001.5,237.5 1009.5,237.5 1017.5,237.5 1025.5,237.5 1033.5,237.5 1041.5,237.5 1049.5,237.5 1057.5,237.5 1065.5,237.5 1073.5,219.5 1081.5,201.5 1089.5,201.5 1097.5,198.5"/><polyline points="2.5,662.5 10.5,662.5 18.5,691.5 26.5,691.5 34.5,691.5 42.5,691.5 50.5,691.5 58.5,691.5 66.5,691.5 74.5,691.5 82.5,691.5 90.5,691.5 98.5,691.5 106.5,688.5 114.5,688.5 122.5,688.5 130.5,688.5 138.5,688.5 146.5,680.5 154.5,674.5 162.5,667.5 170.5,667.5 178.5,667.5 186.5,667.5 194.5,667.5 202.5,667.5 210.5,667.5 218.5,667.5 226.5,658.5 234.5,621.5 242.5,621.5 250.5,616.5 258.5,609.5 266.5,601.5 274.5,601.5 282.5,566.5 290.5,556.5 298.5,553.5 306.5,550.5 314.5,536.5 322.5,536.5 330.5,533.5 338.5,533.5 346.5,527.5 354.5,527.5 362.5,527.5 370.5,527.5 378.5,527.5 386.5,527.5 394.5,527.5 402.5,527.5 410.5,527.5 418.5,527.5 426.5,527.5 434.5,520.5 442.5,516.5 450.5,512.5 458.5,510.5 466.5,510.5 474.5,510.5 482.5,510.5 490.5,529.5 498.5,537.5 506.5,544.5 514.5,546.5 522.5,550.5 530.5,550.5 538.5,553.5 546.5,553.5 554.5,553.5 562.5,554.5 570.5,572.5 578.5,572.5 586.5,572.5 594.5,572.5 602.5,572.5 610.5,572.5 618.5,572.5 626.5,572.5 634.5,572.5 642.5,572.5 650.5,572.5 658.5,572.5 666.5,572.5 674.5,572.5 682.5,572.5 690.5,572.5 698.5,572.5 706.5,572.5 714.5,572.5 722.5,572.5 730.5,544.5 738.5,529.5 746.5,528.5 754.5,525.5 762.5,525.5 770.5,523.5 778.5,520.5 786.5,520.5 794.5,518.5 802.5,518.5 810.5,518.5 818.5,518.5 826.5,518.5 834.5,518.5 842.5,518.5 850.5,518.5 858.5,514.5 866.5,514.5 874.5,489.5 882.5,487.5 890.5,487.5 898.5,487.5 906.5,482.5 914.5,481.5 922.5,434.5 930.5,377.5 938.5,311.5 946.5,311.5 954.5,300.5 962.5,290.5 970.5,282.5 978.5,239.5 986.5,239.5 994.5,237.5 1002.5,237.5 1010.5,237.5 1018.5,237.5 1026.5,237.5 1034.5,237.5 1042.5,237.5 1050.5,237.5 1058.5,237.5 1066.5,237.5 1074.5,219.5 1082.5,201.5 1090.5,201.5 1098.5,198.5"/></g>
<g style="mix-blend-mode:difference" shape-rendering="crispEdges">
<polygon points="2.5,609 10.5,609 18.5,609 26.5,609 34.5,609 42.5,609 50.5,609 58.5,609 66.5,609 74.5,609 82.5,609 90.5,609 98.5,609 106.5,609 114.5,609 122.5,609 130.5,609 138.5,609 146.5,609 154.5,609 162.5,609 170.5,609 178.5,609 186.5,609 194.5,613 202.5,615 210.5,627.5 218.5,628 226.5,653.5 234.5,654 242.5,654 250.5,655.5 258.5,656 266.5,656 274.5,656 282.5,656 290.5,656 298.5,656 306.5,656.25 314.5,656.25 322.5,656.25 330.5,656.25 338.5,656.25 346.5,662.5 346.5,662.5 338.5,664 330.5,664.5 322.5,665 314.5,666 306.5,671 298.5,689.5 290.5,693.75 282.5,693.75 274.5,693.75 266.5,693.75 258.5,693.75 250.5,693.75 242.5,693.75 234.5,694 226.5,695.5 218.5,665.5 210.5,663.5 202.5,663 194.5,663 186.5,663 178.5,662.5 170.5,664 162.5,657.5 154.5,654 146.5,649.5 138.5,645 130.5,641.25 122.5,646 114.5,651 106.5,654 98.5,655.5 90.5,656.5 82.5,656.5 74.5,655 66.5,655 58.5,655 50.5,654.75 42.5,655 34.5,657.25 26.5,651.5 18.5,644.5 10.5,639.5 2.5,635" fill="rgb(39,64,39)"/>
<polygon points="346.5,662.5 354.5,653.5 362.5,649.5 370.5,641 378.5,639 386.5,632.5 394.5,632 402.5,631 410.5,629.5 418.5,627.5 426.5,626.25 434.5,623.5 442.5,606 450.5,606 458.5,599.5 466.5,594.5 474.5,588 482.5,587 490.5,551 498.5,543 506.5,538 514.5,533 522.5,524.5 530.5,523 538.5,522 546.5,520.5 554.5,519.5 562.5,511.5 570.5,512.5 578.5,515.5 586.5,522 594.5,526 602.5,526.75 610.5,527 618.5,527.5 626.5,527.75 634.5,528.5 642.5,534 650.5,532.75 658.5,530 666.5,528 674.5,527.5 682.5,527 690.5,527 698.5,542 706.5,556.5 706.5,556.5 698.5,557 690.5,557 682.5,557 674.5,557 666.5,559.75 658.5,560.5 650.5,561 642.5,598 634.5,605.75 626.5,606 618.5,606 610.5,606 602.5,606 594.5,606 586.5,606 578.5,606 570.5,606 562.5,606 554.5,606 546.5,606 538.5,606 530.5,606 522.5,606 514.5,606 506.5,606 498.5,606 490.5,617.5 482.5,650.5 474.5,651 466.5,658 458.5,662 450.5,667.75 442.5,667.75 434.5,667.75 426.5,667.75 418.5,667.75 410.5,667.75 402.5,667.75 394.5,667.75 386.5,667.75 378.5,667.75 370.5,668 362.5,673.5 354.5,674.5 346.5,662.5" fill="rgb(11,91,159)"/>
<polygon points="706.5,556.5 714.5,552.5 722.5,548 730.5,538 738.5,537.25 746.5,537.25 754.5,537.25 762.5,537.25 770.5,537.25 778.5,537.25 786.5,537.25 794.5,537.25 802.5,537.25 810.5,537.25 818.5,537.25 826.5,537.25 834.5,537.25 842.5,537.25 850.5,537.25 858.5,537.25 866.5,537.25 874.5,537.25 882.5,537.25 890.5,537.25 898.5,537.25 906.5,537.25 914.5,541 922.5,544.5 930.5,546.25 938.5,544 938.5,545 930.5,577 922.5,577 914.5,577 906.5,577 898.5,572.5 890.5,576 882.5,579.75 874.5,576 866.5,576 858.5,576 850.5,578 842.5,582 834.5,582 826.5,580 818.5,577.5 810.5,569.5 802.5,569.5 794.5,569.5 786.5,572.5 778.5,572.5 770.5,564 762.5,563.5 754.5,563 746.5,563 738.5,564 730.5,567.5 722.5,565 714.5,563.5 706.5,556.5" fill="rgb(39,64,39)"/>
<polygon points="970.5,525.5 978.5,521 986.5,517 994.5,508.5 1002.5,497 1010.5,477 1018.5,476.75 1026.5,475.4 1034.5,475.4 1042.5,475.4 1050.5,475.4 1058.5,475.25 1066.5,470.25 1074.5,470 1082.5,445.5 1090.5,442.5 1098.5,442.25 1106.5,442.25 1114.5,440 1122.5,439 1130.5,392.3 1138.5,345.7 1146.5,298.5 1154.5,290 1162.5,281 1170.5,269.5 1178.5,258 1186.5,217.5 1194.5,209 1202.5,194 1210.5,179.5 1218.5,176.5 1226.5,169.5 1234.5,163 1234.5,326 1226.5,326 1218.5,326 1210.5,326 1202.5,326 1194.5,326 1186.5,326.5 1178.5,367.5 1170.5,377 1162.5,386 1154.5,392.6 1146.5,393 1138.5,424 1130.5,455.3 1122.5,486.5 1114.5,487.5 1106.5,487.75 1098.5,488 1090.5,488 1082.5,490.5 1074.5,514.75 1066.5,515 1058.5,518.75 1050.5,518.75 1042.5,518.75 1034.5,518.75 1026.5,518.75 1018.5,518.75 1010.5,518.75 1002.5,518.75 994.5,520.6 986.5,520.75 978.5,523.5 970.5,525.5" fill="rgb(11,91,159)"/>
</g>
<polyline points="938.5,544.5 946.5,530 954.5,530 962.5,525.8 972.5,525.8" fill="none" stroke="rgb(216,191,216)" stroke-width="1" shape-rendering="crispEdges"/>
<g clip-path="url(#oc)">
<g shape-rendering="crispEdges" stroke="#ebbb7f" stroke-width="1" stroke-dasharray="3 3" fill="none">
<path d="M2 13.5H1227"/><path d="M2 45.5H1227"/><path d="M2 77.5H1227"/><path d="M2 109.5H1227"/><path d="M2 141.5H1227"/><path d="M2 173.5H1227"/><path d="M2 205.5H1227"/><path d="M2 236.5H1227"/><path d="M2 268.5H1227"/><path d="M2 300.5H1227"/><path d="M2 332.5H1227"/><path d="M2 364.5H1227"/><path d="M2 396.5H1227"/><path d="M2 428.5H1227"/><path d="M2 460.5H1227"/><path d="M2 492.5H1227"/><path d="M2 524.5H1227"/><path d="M2 556.5H1227"/><path d="M2 588.5H1227"/><path d="M2 619.5H1227"/><path d="M2 651.5H1227"/><path d="M2 683.5H1227"/><path d="M2 715.5H1227"/><path d="M2 747.5H1227"/><path d="M34.5 2V779"/><path d="M66.5 2V779"/><path d="M98.5 2V779"/><path d="M130.5 2V779"/><path d="M162.5 2V779"/><path d="M194.5 2V779"/><path d="M226.5 2V779"/><path d="M258.5 2V779"/><path d="M290.5 2V779"/><path d="M322.5 2V779"/><path d="M354.5 2V779"/><path d="M386.5 2V779"/><path d="M418.5 2V779"/><path d="M450.5 2V779"/><path d="M482.5 2V779"/><path d="M514.5 2V779"/><path d="M546.5 2V779"/><path d="M578.5 2V779"/><path d="M610.5 2V779"/><path d="M642.5 2V779"/><path d="M674.5 2V779"/><path d="M706.5 2V779"/><path d="M738.5 2V779"/><path d="M770.5 2V779"/><path d="M802.5 2V779"/><path d="M834.5 2V779"/><path d="M866.5 2V779"/><path d="M898.5 2V779"/><path d="M930.5 2V779"/><path d="M962.5 2V779"/><path d="M994.5 2V779"/><path d="M1026.5 2V779"/><path d="M1058.5 2V779"/><path d="M1090.5 2V779"/><path d="M1122.5 2V779"/><path d="M1154.5 2V779"/><path d="M1186.5 2V779"/><path d="M1218.5 2V779"/>
</g>
<rect x="3" y="90" width="1224" height="1" fill="rgb(199,91,159)" shape-rendering="crispEdges"/>
<g shape-rendering="crispEdges" fill="rgb(11,91,159)">
<rect x="2" y="679" width="1" height="4"/><rect x="0" y="679" width="5" height="4"/><rect x="10" y="677" width="1" height="20"/><rect x="8" y="682" width="5" height="11"/><rect x="18" y="733" width="1" height="40"/><rect x="16" y="738" width="5" height="21"/><rect fill="rgb(244,164,96)" x="17" y="739" width="3" height="19"/><rect x="26" y="624" width="1" height="132"/><rect x="24" y="634" width="5" height="105"/><rect fill="rgb(244,164,96)" x="25" y="635" width="3" height="103"/><rect x="34" y="619" width="1" height="60"/><rect x="32" y="634" width="5" height="4"/><rect x="42" y="632" width="1" height="28"/><rect x="40" y="637" width="5" height="21"/><rect x="50" y="654" width="1" height="27"/><rect x="48" y="657" width="5" height="12"/><rect x="58" y="657" width="1" height="14"/><rect x="56" y="665" width="5" height="4"/><rect fill="rgb(244,164,96)" x="57" y="666" width="3" height="2"/><rect x="66" y="647" width="1" height="19"/><rect x="64" y="650" width="5" height="16"/><rect fill="rgb(244,164,96)" x="65" y="651" width="3" height="14"/><rect x="74" y="626" width="1" height="29"/><rect x="72" y="650" width="5" height="1"/><rect x="82" y="637" width="1" height="16"/><rect x="80" y="642" width="5" height="9"/><rect fill="rgb(244,164,96)" x="81" y="643" width="3" height="7"/><rect x="90" y="617" width="1" height="58"/><rect x="88" y="642" width="5" height="22"/><rect x="98" y="618" width="1" height="50"/><rect x="96" y="619" width="5" height="45"/><rect fill="rgb(244,164,96)" x="97" y="620" width="3" height="43"/><rect x="106" y="605" width="1" height="56"/><rect x="104" y="619" width="5" height="8"/><rect x="114" y="610" width="1" height="18"/><rect x="112" y="617" width="5" height="10"/><rect fill="rgb(244,164,96)" x="113" y="618" width="3" height="8"/><rect x="122" y="615" width="1" height="20"/><rect x="120" y="617" width="5" height="4"/><rect x="130" y="607" width="1" height="22"/><rect x="128" y="620" width="5" height="7"/><rect x="138" y="602" width="1" height="25"/><rect x="136" y="608" width="5" height="19"/><rect fill="rgb(244,164,96)" x="137" y="609" width="3" height="17"/><rect x="146" y="586" width="1" height="31"/><rect x="144" y="595" width="5" height="14"/><rect fill="rgb(244,164,96)" x="145" y="596" width="3" height="12"/><rect x="154" y="575" width="1" height="24"/><rect x="152" y="591" width="5" height="5"/><rect fill="rgb(244,164,96)" x="153" y="592" width="3" height="3"/><rect x="162" y="562" width="1" height="32"/><rect x="160" y="578" width="5" height="14"/><rect fill="rgb(244,164,96)" x="161" y="579" width="3" height="12"/><rect x="170" y="565" width="1" height="17"/><rect x="168" y="570" width="5" height="9"/><rect fill="rgb(244,164,96)" x="169" y="571" width="3" height="7"/><rect x="178" y="567" width="1" height="15"/><rect x="176" y="570" width="5" height="11"/><rect x="186" y="573" width="1" height="11"/><rect x="184" y="580" width="5" height="3"/><rect x="194" y="576" width="1" height="9"/><rect x="192" y="577" width="5" height="6"/><rect fill="rgb(244,164,96)" x="193" y="578" width="3" height="4"/><rect x="202" y="576" width="1" height="14"/><rect x="200" y="577" width="5" height="8"/><rect x="210" y="576" width="1" height="32"/><rect x="208" y="583" width="5" height="13"/><rect fill="rgb(244,164,96)" x="209" y="584" width="3" height="11"/><rect x="218" y="578" width="1" height="25"/><rect x="216" y="594" width="5" height="4"/><rect x="226" y="595" width="1" height="23"/><rect x="224" y="597" width="5" height="3"/><rect x="234" y="586" width="1" height="19"/><rect x="232" y="586" width="5" height="14"/><rect fill="rgb(244,164,96)" x="233" y="587" width="3" height="12"/><rect x="242" y="577" width="1" height="19"/><rect x="240" y="586" width="5" height="1"/><rect x="250" y="551" width="1" height="38"/><rect x="248" y="562" width="5" height="25"/><rect fill="rgb(244,164,96)" x="249" y="563" width="3" height="23"/><rect x="258" y="544" width="1" height="19"/><rect x="256" y="549" width="5" height="13"/><rect fill="rgb(244,164,96)" x="257" y="550" width="3" height="11"/><rect x="266" y="529" width="1" height="21"/><rect x="264" y="547" width="5" height="3"/><rect x="274" y="542" width="1" height="28"/><rect x="272" y="547" width="5" height="18"/><rect x="282" y="457" width="1" height="126"/><rect x="280" y="475" width="5" height="90"/><rect fill="rgb(244,164,96)" x="281" y="476" width="3" height="88"/><rect x="290" y="438" width="1" height="38"/><rect x="288" y="467" width="5" height="8"/><rect fill="rgb(244,164,96)" x="289" y="468" width="3" height="6"/><rect x="298" y="443" width="1" height="42"/><rect x="296" y="466" width="5" height="9"/><rect x="306" y="451" width="1" height="47"/><rect x="304" y="463" width="5" height="13"/><rect fill="rgb(244,164,96)" x="305" y="464" width="3" height="11"/><rect x="314" y="457" width="1" height="52"/><rect x="312" y="462" width="5" height="39"/><rect x="322" y="493" width="1" height="60"/><rect x="320" y="500" width="5" height="38"/><rect x="330" y="464" width="1" height="85"/><rect x="328" y="524" width="5" height="14"/><rect fill="rgb(244,164,96)" x="329" y="525" width="3" height="12"/><rect x="338" y="501" width="1" height="50"/><rect x="336" y="511" width="5" height="13"/><rect fill="rgb(244,164,96)" x="337" y="512" width="3" height="11"/><rect x="346" y="469" width="1" height="55"/><rect x="344" y="511" width="5" height="3"/><rect x="354" y="484" width="1" height="38"/><rect x="352" y="486" width="5" height="28"/><rect fill="rgb(244,164,96)" x="353" y="487" width="3" height="26"/><rect x="362" y="473" width="1" height="43"/><rect x="360" y="486" width="5" height="30"/><rect x="370" y="512" width="1" height="35"/><rect x="368" y="515" width="5" height="30"/><rect x="378" y="539" width="1" height="42"/><rect x="376" y="545" width="5" height="34"/><rect x="386" y="560" width="1" height="23"/><rect x="384" y="565" width="5" height="14"/><rect fill="rgb(244,164,96)" x="385" y="566" width="3" height="12"/><rect x="394" y="544" width="1" height="25"/><rect x="392" y="550" width="5" height="16"/><rect fill="rgb(244,164,96)" x="393" y="551" width="3" height="14"/><rect x="402" y="532" width="1" height="44"/><rect x="400" y="556" width="5" height="20"/><rect fill="rgb(244,164,96)" x="401" y="557" width="3" height="18"/><rect x="410" y="545" width="1" height="18"/><rect x="408" y="550" width="5" height="5"/><rect fill="rgb(244,164,96)" x="409" y="551" width="3" height="3"/><rect x="418" y="545" width="1" height="21"/><rect x="416" y="545" width="5" height="6"/><rect fill="rgb(244,164,96)" x="417" y="546" width="3" height="4"/><rect x="426" y="514" width="1" height="38"/><rect x="424" y="524" width="5" height="23"/><rect fill="rgb(244,164,96)" x="425" y="525" width="3" height="21"/><rect x="434" y="519" width="1" height="25"/><rect x="432" y="524" width="5" height="20"/><rect x="442" y="537" width="1" height="30"/><rect x="440" y="543" width="5" height="8"/><rect x="450" y="550" width="1" height="17"/><rect x="448" y="550" width="5" height="7"/><rect x="458" y="550" width="1" height="12"/><rect x="456" y="556" width="5" height="1"/><rect x="466" y="546" width="1" height="16"/><rect x="464" y="556" width="5" height="5"/><rect x="474" y="531" width="1" height="44"/><rect x="472" y="542" width="5" height="20"/><rect fill="rgb(244,164,96)" x="473" y="543" width="3" height="18"/><rect x="482" y="538" width="1" height="29"/><rect x="480" y="544" width="5" height="11"/><rect x="490" y="554" width="1" height="67"/><rect x="488" y="554" width="5" height="63"/><rect x="498" y="606" width="1" height="27"/><rect x="496" y="616" width="5" height="8"/><rect x="506" y="591" width="1" height="46"/><rect x="504" y="618" width="5" height="6"/><rect fill="rgb(244,164,96)" x="505" y="619" width="3" height="4"/><rect x="514" y="581" width="1" height="56"/><rect x="512" y="583" width="5" height="36"/><rect fill="rgb(244,164,96)" x="513" y="584" width="3" height="34"/><rect x="522" y="541" width="1" height="72"/><rect x="520" y="547" width="5" height="38"/><rect fill="rgb(244,164,96)" x="521" y="548" width="3" height="36"/><rect x="530" y="515" width="1" height="75"/><rect x="528" y="527" width="5" height="21"/><rect fill="rgb(244,164,96)" x="529" y="528" width="3" height="19"/><rect x="538" y="508" width="1" height="78"/><rect x="536" y="527" width="5" height="53"/><rect x="546" y="549" width="1" height="38"/><rect x="544" y="578" width="5" height="2"/><rect x="554" y="554" width="1" height="50"/><rect x="552" y="577" width="5" height="2"/><rect x="562" y="577" width="1" height="22"/><rect x="560" y="578" width="5" height="14"/><rect x="570" y="573" width="1" height="45"/><rect x="568" y="582" width="5" height="8"/><rect fill="rgb(244,164,96)" x="569" y="583" width="3" height="6"/><rect x="578" y="581" width="1" height="31"/><rect x="576" y="582" width="5" height="4"/><rect x="586" y="568" width="1" height="21"/><rect x="584" y="573" width="5" height="12"/><rect fill="rgb(244,164,96)" x="585" y="574" width="3" height="10"/><rect x="594" y="565" width="1" height="36"/><rect x="592" y="580" width="5" height="21"/><rect fill="rgb(244,164,96)" x="593" y="581" width="3" height="19"/><rect x="602" y="573" width="1" height="28"/><rect x="600" y="586" width="5" height="15"/><rect x="610" y="570" width="1" height="33"/><rect x="608" y="574" width="5" height="27"/><rect fill="rgb(244,164,96)" x="609" y="575" width="3" height="25"/><rect x="618" y="569" width="1" height="16"/><rect x="616" y="572" width="5" height="3"/><rect fill="rgb(244,164,96)" x="617" y="573" width="3" height="1"/><rect x="626" y="561" width="1" height="27"/><rect x="624" y="572" width="5" height="12"/><rect x="634" y="565" width="1" height="19"/><rect x="632" y="567" width="5" height="17"/><rect fill="rgb(244,164,96)" x="633" y="568" width="3" height="15"/><rect x="642" y="552" width="1" height="22"/><rect x="640" y="567" width="5" height="5"/><rect x="650" y="569" width="1" height="19"/><rect x="648" y="569" width="5" height="7"/><rect x="658" y="574" width="1" height="21"/><rect x="656" y="575" width="5" height="8"/><rect x="666" y="557" width="1" height="32"/><rect x="664" y="570" width="5" height="14"/><rect fill="rgb(244,164,96)" x="665" y="571" width="3" height="12"/><rect x="674" y="567" width="1" height="52"/><rect x="672" y="570" width="5" height="30"/><rect x="682" y="537" width="1" height="64"/><rect x="680" y="541" width="5" height="59"/><rect fill="rgb(244,164,96)" x="681" y="542" width="3" height="57"/><rect x="690" y="527" width="1" height="32"/><rect x="688" y="534" width="5" height="9"/><rect fill="rgb(244,164,96)" x="689" y="535" width="3" height="7"/><rect x="698" y="523" width="1" height="114"/><rect x="696" y="534" width="5" height="60"/><rect x="706" y="547" width="1" height="59"/><rect x="704" y="583" width="5" height="11"/><rect fill="rgb(244,164,96)" x="705" y="584" width="3" height="9"/><rect x="714" y="554" width="1" height="72"/><rect x="712" y="583" width="5" height="7"/><rect x="722" y="523" width="1" height="68"/><rect x="720" y="539" width="5" height="50"/><rect fill="rgb(244,164,96)" x="721" y="540" width="3" height="48"/><rect x="730" y="452" width="1" height="91"/><rect x="728" y="468" width="5" height="75"/><rect fill="rgb(244,164,96)" x="729" y="469" width="3" height="73"/><rect x="738" y="421" width="1" height="48"/><rect x="736" y="442" width="5" height="27"/><rect fill="rgb(244,164,96)" x="737" y="443" width="3" height="25"/><rect x="746" y="428" width="1" height="46"/><rect x="744" y="436" width="5" height="8"/><rect fill="rgb(244,164,96)" x="745" y="437" width="3" height="6"/><rect x="754" y="414" width="1" height="27"/><rect x="752" y="422" width="5" height="16"/><rect fill="rgb(244,164,96)" x="753" y="423" width="3" height="14"/><rect x="762" y="420" width="1" height="30"/><rect x="760" y="422" width="5" height="18"/><rect x="770" y="411" width="1" height="34"/><rect x="768" y="425" width="5" height="16"/><rect fill="rgb(244,164,96)" x="769" y="426" width="3" height="14"/><rect x="778" y="404" width="1" height="25"/><rect x="776" y="416" width="5" height="10"/><rect fill="rgb(244,164,96)" x="777" y="417" width="3" height="8"/><rect x="786" y="414" width="1" height="50"/><rect x="784" y="417" width="5" height="41"/><rect fill="rgb(244,164,96)" x="785" y="418" width="3" height="39"/><rect x="794" y="400" width="1" height="24"/><rect x="792" y="418" width="5" height="3"/><rect x="802" y="417" width="1" height="14"/><rect x="800" y="420" width="5" height="8"/><rect x="810" y="409" width="1" height="20"/><rect x="808" y="424" width="5" height="4"/><rect fill="rgb(244,164,96)" x="809" y="425" width="3" height="2"/><rect x="818" y="422" width="1" height="17"/><rect x="816" y="424" width="5" height="12"/><rect x="826" y="430" width="1" height="15"/><rect x="824" y="435" width="5" height="6"/><rect x="834" y="424" width="1" height="19"/><rect x="832" y="426" width="5" height="15"/><rect fill="rgb(244,164,96)" x="833" y="427" width="3" height="13"/><rect x="842" y="417" width="1" height="12"/><rect x="840" y="422" width="5" height="4"/><rect fill="rgb(244,164,96)" x="841" y="423" width="3" height="2"/><rect x="850" y="419" width="1" height="38"/><rect x="848" y="423" width="5" height="33"/><rect x="858" y="392" width="1" height="67"/><rect x="856" y="436" width="5" height="19"/><rect fill="rgb(244,164,96)" x="857" y="437" width="3" height="17"/><rect x="866" y="413" width="1" height="45"/><rect x="864" y="416" width="5" height="20"/><rect fill="rgb(244,164,96)" x="865" y="417" width="3" height="18"/><rect x="874" y="342" width="1" height="81"/><rect x="872" y="353" width="5" height="64"/><rect fill="rgb(244,164,96)" x="873" y="354" width="3" height="62"/><rect x="882" y="338" width="1" height="33"/><rect x="880" y="353" width="5" height="8"/><rect x="890" y="348" width="1" height="41"/><rect x="888" y="359" width="5" height="21"/><rect x="898" y="348" width="1" height="33"/><rect x="896" y="356" width="5" height="24"/><rect fill="rgb(244,164,96)" x="897" y="357" width="3" height="22"/><rect x="906" y="342" width="1" height="24"/><rect x="904" y="356" width="5" height="9"/><rect x="914" y="335" width="1" height="39"/><rect x="912" y="339" width="5" height="26"/><rect fill="rgb(244,164,96)" x="913" y="340" width="3" height="24"/><rect x="922" y="270" width="1" height="73"/><rect x="920" y="277" width="5" height="64"/><rect fill="rgb(244,164,96)" x="921" y="278" width="3" height="62"/><rect x="930" y="203" width="1" height="82"/><rect x="928" y="224" width="5" height="54"/><rect fill="rgb(244,164,96)" x="929" y="225" width="3" height="52"/><rect x="938" y="148" width="1" height="82"/><rect x="936" y="181" width="5" height="44"/><rect fill="rgb(244,164,96)" x="937" y="182" width="3" height="42"/><rect x="946" y="179" width="1" height="38"/><rect x="944" y="180" width="5" height="8"/><rect x="954" y="134" width="1" height="54"/><rect x="952" y="147" width="5" height="41"/><rect fill="rgb(244,164,96)" x="953" y="148" width="3" height="39"/><rect x="962" y="114" width="1" height="38"/><rect x="960" y="118" width="5" height="29"/><rect fill="rgb(244,164,96)" x="961" y="119" width="3" height="27"/><rect x="970" y="98" width="1" height="30"/><rect x="968" y="105" width="5" height="14"/><rect fill="rgb(244,164,96)" x="969" y="106" width="3" height="12"/><rect x="978" y="25" width="1" height="85"/><rect x="976" y="30" width="5" height="76"/><rect fill="rgb(244,164,96)" x="977" y="31" width="3" height="74"/><rect x="986" y="22" width="1" height="57"/><rect x="984" y="27" width="5" height="30"/><rect x="994" y="51" width="1" height="54"/><rect x="992" y="51" width="5" height="6"/><rect fill="rgb(244,164,96)" x="993" y="52" width="3" height="4"/><rect x="1002" y="35" width="1" height="36"/><rect x="1000" y="51" width="5" height="15"/><rect x="1010" y="24" width="1" height="46"/><rect x="1008" y="46" width="5" height="20"/><rect fill="rgb(244,164,96)" x="1009" y="47" width="3" height="18"/><rect x="1018" y="46" width="1" height="33"/><rect x="1016" y="46" width="5" height="22"/><rect x="1026" y="50" width="1" height="33"/><rect x="1024" y="67" width="5" height="1"/><rect x="1034" y="46" width="1" height="24"/><rect x="1032" y="52" width="5" height="16"/><rect fill="rgb(244,164,96)" x="1033" y="53" width="3" height="14"/><rect x="1042" y="48" width="1" height="28"/><rect x="1040" y="52" width="5" height="24"/><rect x="1050" y="31" width="1" height="71"/><rect x="1048" y="74" width="5" height="23"/><rect x="1058" y="49" width="1" height="56"/><rect x="1056" y="62" width="5" height="35"/><rect fill="rgb(244,164,96)" x="1057" y="63" width="3" height="33"/><rect x="1066" y="29" width="1" height="42"/><rect x="1064" y="40" width="5" height="22"/><rect fill="rgb(244,164,96)" x="1065" y="41" width="3" height="20"/><rect x="1074" y="33" width="1" height="20"/><rect x="1072" y="40" width="5" height="4"/><rect x="1082" y="37" width="1" height="19"/><rect x="1080" y="43" width="5" height="11"/><rect x="1090" y="39" width="1" height="55"/><rect x="1088" y="53" width="5" height="30"/><rect x="1098" y="81" width="1" height="24"/><rect x="1096" y="82" width="5" height="9"/>
</g>
<g fill="none" stroke="rgb(244,91,159)" stroke-width="1" stroke-linecap="square" stroke-linejoin="miter" shape-rendering="crispEdges" ><polyline points="1.5,665.5 9.5,665.5 17.5,698.5 25.5,698.5 33.5,694.5 41.5,694.5 49.5,694.5 57.5,694.5 65.5,694.5 73.5,694.5 81.5,694.5 89.5,684.5 97.5,647.5 105.5,642.5 113.5,642.5 121.5,638.5 129.5,638.5 137.5,638.5 145.5,630.5 153.5,622.5 161.5,614.5 169.5,610.5 177.5,597.5 185.5,597.5 193.5,594.5 201.5,594.5 209.5,588.5 217.5,585.5 225.5,589.5 233.5,590.5 241.5,590.5 249.5,583.5 257.5,581.5 265.5,572.5 273.5,572.5 281.5,536.5 289.5,527.5 297.5,520.5 305.5,515.5 313.5,511.5 321.5,509.5 329.5,509.5 337.5,509.5 345.5,509.5 353.5,495.5 361.5,497.5 369.5,501.5 377.5,517.5 385.5,522.5 393.5,523.5 401.5,525.5 409.5,525.5 417.5,527.5 425.5,527.5 433.5,548.5 441.5,548.5 449.5,548.5 457.5,544.5 465.5,544.5 473.5,543.5 481.5,543.5 489.5,564.5 497.5,574.5 505.5,583.5 513.5,583.5 521.5,583.5 529.5,577.5 537.5,571.5 545.5,571.5 553.5,571.5 561.5,571.5 569.5,571.5 577.5,571.5 585.5,562.5 593.5,561.5 601.5,561.5 609.5,580.5 617.5,586.5 625.5,588.5 633.5,588.5 641.5,581.5 649.5,576.5 657.5,576.5 665.5,576.5 673.5,584.5 681.5,576.5 689.5,573.5 697.5,578.5 705.5,578.5 713.5,578.5 721.5,578.5 729.5,544.5 737.5,529.5 745.5,527.5 753.5,524.5 761.5,523.5 769.5,517.5 777.5,514.5 785.5,499.5 793.5,469.5 801.5,436.5 809.5,436.5 817.5,430.5 825.5,431.5 833.5,431.5 841.5,431.5 849.5,431.5 857.5,424.5 865.5,424.5 873.5,399.5 881.5,397.5 889.5,397.5 897.5,397.5 905.5,397.5 913.5,397.5 921.5,365.5 929.5,330.5 937.5,285.5 945.5,268.5 953.5,260.5 961.5,247.5 969.5,235.5 977.5,194.5 985.5,179.5 993.5,151.5 1001.5,121.5 1009.5,115.5 1017.5,98.5 1025.5,81.5 1033.5,71.5 1041.5,59.5 1049.5,63.5 1057.5,63.5 1065.5,63.5 1073.5,63.5 1081.5,66.5 1089.5,66.5 1097.5,66.5"/><polyline points="2.5,665.5 10.5,665.5 18.5,698.5 26.5,698.5 34.5,694.5 42.5,694.5 50.5,694.5 58.5,694.5 66.5,694.5 74.5,694.5 82.5,694.5 90.5,684.5 98.5,647.5 106.5,642.5 114.5,642.5 122.5,638.5 130.5,638.5 138.5,638.5 146.5,630.5 154.5,622.5 162.5,614.5 170.5,610.5 178.5,597.5 186.5,597.5 194.5,594.5 202.5,594.5 210.5,588.5 218.5,585.5 226.5,589.5 234.5,590.5 242.5,590.5 250.5,583.5 258.5,581.5 266.5,572.5 274.5,572.5 282.5,536.5 290.5,527.5 298.5,520.5 306.5,515.5 314.5,511.5 322.5,509.5 330.5,509.5 338.5,509.5 346.5,509.5 354.5,495.5 362.5,497.5 370.5,501.5 378.5,517.5 386.5,522.5 394.5,523.5 402.5,525.5 410.5,525.5 418.5,527.5 426.5,527.5 434.5,548.5 442.5,548.5 450.5,548.5 458.5,544.5 466.5,544.5 474.5,543.5 482.5,543.5 490.5,564.5 498.5,574.5 506.5,583.5 514.5,583.5 522.5,583.5 530.5,577.5 538.5,571.5 546.5,571.5 554.5,571.5 562.5,571.5 570.5,571.5 578.5,571.5 586.5,562.5 594.5,561.5 602.5,561.5 610.5,580.5 618.5,586.5 626.5,588.5 634.5,588.5 642.5,581.5 650.5,576.5 658.5,576.5 666.5,576.5 674.5,584.5 682.5,576.5 690.5,573.5 698.5,578.5 706.5,578.5 714.5,578.5 722.5,578.5 730.5,544.5 738.5,529.5 746.5,527.5 754.5,524.5 762.5,523.5 770.5,517.5 778.5,514.5 786.5,499.5 794.5,469.5 802.5,436.5 810.5,436.5 818.5,430.5 826.5,431.5 834.5,431.5 842.5,431.5 850.5,431.5 858.5,424.5 866.5,424.5 874.5,399.5 882.5,397.5 890.5,397.5 898.5,397.5 906.5,397.5 914.5,397.5 922.5,365.5 930.5,330.5 938.5,285.5 946.5,268.5 954.5,260.5 962.5,247.5 970.5,235.5 978.5,194.5 986.5,179.5 994.5,151.5 1002.5,121.5 1010.5,115.5 1018.5,98.5 1026.5,81.5 1034.5,71.5 1042.5,59.5 1050.5,63.5 1058.5,63.5 1066.5,63.5 1074.5,63.5 1082.5,66.5 1090.5,66.5 1098.5,66.5"/><polyline points="1.5,666.5 9.5,666.5 17.5,699.5 25.5,699.5 33.5,695.5 41.5,695.5 49.5,695.5 57.5,695.5 65.5,695.5 73.5,695.5 81.5,695.5 89.5,685.5 97.5,648.5 105.5,643.5 113.5,643.5 121.5,639.5 129.5,639.5 137.5,639.5 145.5,631.5 153.5,623.5 161.5,615.5 169.5,611.5 177.5,598.5 185.5,598.5 193.5,595.5 201.5,595.5 209.5,589.5 217.5,586.5 225.5,590.5 233.5,591.5 241.5,591.5 249.5,584.5 257.5,582.5 265.5,573.5 273.5,573.5 281.5,537.5 289.5,528.5 297.5,521.5 305.5,516.5 313.5,512.5 321.5,510.5 329.5,510.5 337.5,510.5 345.5,510.5 353.5,496.5 361.5,498.5 369.5,502.5 377.5,518.5 385.5,523.5 393.5,524.5 401.5,526.5 409.5,526.5 417.5,528.5 425.5,528.5 433.5,549.5 441.5,549.5 449.5,549.5 457.5,545.5 465.5,545.5 473.5,544.5 481.5,544.5 489.5,565.5 497.5,575.5 505.5,584.5 513.5,584.5 521.5,584.5 529.5,578.5 537.5,572.5 545.5,572.5 553.5,572.5 561.5,572.5 569.5,572.5 577.5,572.5 585.5,563.5 593.5,562.5 601.5,562.5 609.5,581.5 617.5,587.5 625.5,589.5 633.5,589.5 641.5,582.5 649.5,577.5 657.5,577.5 665.5,577.5 673.5,585.5 681.5,577.5 689.5,574.5 697.5,579.5 705.5,579.5 713.5,579.5 721.5,579.5 729.5,545.5 737.5,530.5 745.5,528.5 753.5,525.5 761.5,524.5 769.5,518.5 777.5,515.5 785.5,500.5 793.5,470.5 801.5,437.5 809.5,437.5 817.5,431.5 825.5,432.5 833.5,432.5 841.5,432.5 849.5,432.5 857.5,425.5 865.5,425.5 873.5,400.5 881.5,398.5 889.5,398.5 897.5,398.5 905.5,398.5 913.5,398.5 921.5,366.5 929.5,331.5 937.5,286.5 945.5,269.5 953.5,261.5 961.5,248.5 969.5,236.5 977.5,195.5 985.5,180.5 993.5,152.5 1001.5,122.5 1009.5,116.5 1017.5,99.5 1025.5,82.5 1033.5,72.5 1041.5,60.5 1049.5,64.5 1057.5,64.5 1065.5,64.5 1073.5,64.5 1081.5,67.5 1089.5,67.5 1097.5,67.5"/><polyline points="2.5,666.5 10.5,666.5 18.5,699.5 26.5,699.5 34.5,695.5 42.5,695.5 50.5,695.5 58.5,695.5 66.5,695.5 74.5,695.5 82.5,695.5 90.5,685.5 98.5,648.5 106.5,643.5 114.5,643.5 122.5,639.5 130.5,639.5 138.5,639.5 146.5,631.5 154.5,623.5 162.5,615.5 170.5,611.5 178.5,598.5 186.5,598.5 194.5,595.5 202.5,595.5 210.5,589.5 218.5,586.5 226.5,590.5 234.5,591.5 242.5,591.5 250.5,584.5 258.5,582.5 266.5,573.5 274.5,573.5 282.5,537.5 290.5,528.5 298.5,521.5 306.5,516.5 314.5,512.5 322.5,510.5 330.5,510.5 338.5,510.5 346.5,510.5 354.5,496.5 362.5,498.5 370.5,502.5 378.5,518.5 386.5,523.5 394.5,524.5 402.5,526.5 410.5,526.5 418.5,528.5 426.5,528.5 434.5,549.5 442.5,549.5 450.5,549.5 458.5,545.5 466.5,545.5 474.5,544.5 482.5,544.5 490.5,565.5 498.5,575.5 506.5,584.5 514.5,584.5 522.5,584.5 530.5,578.5 538.5,572.5 546.5,572.5 554.5,572.5 562.5,572.5 570.5,572.5 578.5,572.5 586.5,563.5 594.5,562.5 602.5,562.5 610.5,581.5 618.5,587.5 626.5,589.5 634.5,589.5 642.5,582.5 650.5,577.5 658.5,577.5 666.5,577.5 674.5,585.5 682.5,577.5 690.5,574.5 698.5,579.5 706.5,579.5 714.5,579.5 722.5,579.5 730.5,545.5 738.5,530.5 746.5,528.5 754.5,525.5 762.5,524.5 770.5,518.5 778.5,515.5 786.5,500.5 794.5,470.5 802.5,437.5 810.5,437.5 818.5,431.5 826.5,432.5 834.5,432.5 842.5,432.5 850.5,432.5 858.5,425.5 866.5,425.5 874.5,400.5 882.5,398.5 890.5,398.5 898.5,398.5 906.5,398.5 914.5,398.5 922.5,366.5 930.5,331.5 938.5,286.5 946.5,269.5 954.5,261.5 962.5,248.5 970.5,236.5 978.5,195.5 986.5,180.5 994.5,152.5 1002.5,122.5 1010.5,116.5 1018.5,99.5 1026.5,82.5 1034.5,72.5 1042.5,60.5 1050.5,64.5 1058.5,64.5 1066.5,64.5 1074.5,64.5 1082.5,67.5 1090.5,67.5 1098.5,67.5"/></g>
<g fill="none" stroke="rgb(11,91,96)" stroke-width="1" stroke-linecap="square" stroke-linejoin="miter" shape-rendering="crispEdges" ><polyline points="1.5,661.5 9.5,661.5 17.5,690.5 25.5,690.5 33.5,690.5 41.5,690.5 49.5,690.5 57.5,690.5 65.5,690.5 73.5,690.5 81.5,690.5 89.5,690.5 97.5,690.5 105.5,687.5 113.5,687.5 121.5,687.5 129.5,687.5 137.5,687.5 145.5,679.5 153.5,673.5 161.5,666.5 169.5,666.5 177.5,666.5 185.5,666.5 193.5,666.5 201.5,666.5 209.5,666.5 217.5,666.5 225.5,657.5 233.5,620.5 241.5,620.5 249.5,615.5 257.5,608.5 265.5,600.5 273.5,600.5 281.5,565.5 289.5,555.5 297.5,552.5 305.5,549.5 313.5,535.5 321.5,535.5 329.5,532.5 337.5,532.5 345.5,526.5 353.5,526.5 361.5,526.5 369.5,526.5 377.5,526.5 385.5,526.5 393.5,526.5 401.5,526.5 409.5,526.5 417.5,526.5 425.5,526.5 433.5,519.5 441.5,515.5 449.5,511.5 457.5,509.5 465.5,509.5 473.5,509.5 481.5,509.5 489.5,528.5 497.5,536.5 505.5,543.5 513.5,545.5 521.5,549.5 529.5,549.5 537.5,552.5 545.5,552.5 553.5,552.5 561.5,553.5 569.5,571.5 577.5,571.5 585.5,571.5 593.5,571.5 601.5,571.5 609.5,571.5 617.5,571.5 625.5,571.5 633.5,571.5 641.5,571.5 649.5,571.5 657.5,571.5 665.5,571.5 673.5,571.5 681.5,571.5 689.5,571.5 697.5,571.5 705.5,571.5 713.5,571.5 721.5,571.5 729.5,543.5 737.5,528.5 745.5,527.5 753.5,524.5 761.5,524.5 769.5,522.5 777.5,519.5 785.5,519.5 793.5,517.5 801.5,517.5 809.5,517.5 817.5,517.5 825.5,517.5 833.5,517.5 841.5,517.5 849.5,517.5 857.5,513.5 865.5,513.5 873.5,488.5 881.5,486.5 889.5,486.5 897.5,486.5 905.5,481.5 913.5,480.5 921.5,433.5 929.5,376.5 937.5,310.5 945.5,310.5 953.5,299.5 961.5,289.5 969.5,281.5 977.5,238.5 985.5,238.5 993.5,236.5 1001.5,236.5 1009.5,236.5 1017.5,236.5 1025.5,236.5 1033.5,236.5 1041.5,236.5 1049.5,236.5 1057.5,236.5 1065.5,236.5 1073.5,218.5 1081.5,200.5 1089.5,200.5 1097.5,197.5"/><polyline points="2.5,661.5 10.5,661.5 18.5,690.5 26.5,690.5 34.5,690.5 42.5,690.5 50.5,690.5 58.5,690.5 66.5,690.5 74.5,690.5 82.5,690.5 90.5,690.5 98.5,690.5 106.5,687.5 114.5,687.5 122.5,687.5 130.5,687.5 138.5,687.5 146.5,679.5 154.5,673.5 162.5,666.5 170.5,666.5 178.5,666.5 186.5,666.5 194.5,666.5 202.5,666.5 210.5,666.5 218.5,666.5 226.5,657.5 234.5,620.5 242.5,620.5 250.5,615.5 258.5,608.5 266.5,600.5 274.5,600.5 282.5,565.5 290.5,555.5 298.5,552.5 306.5,549.5 314.5,535.5 322.5,535.5 330.5,532.5 338.5,532.5 346.5,526.5 354.5,526.5 362.5,526.5 370.5,526.5 378.5,526.5 386.5,526.5 394.5,526.5 402.5,526.5 410.5,526.5 418.5,526.5 426.5,526.5 434.5,519.5 442.5,515.5 450.5,511.5 458.5,509.5 466.5,509.5 474.5,509.5 482.5,509.5 490.5,528.5 498.5,536.5 506.5,543.5 514.5,545.5 522.5,549.5 530.5,549.5 538.5,552.5 546.5,552.5 554.5,552.5 562.5,553.5 570.5,571.5 578.5,571.5 586.5,571.5 594.5,571.5 602.5,571.5 610.5,571.5 618.5,571.5 626.5,571.5 634.5,571.5 642.5,571.5 650.5,571.5 658.5,571.5 666.5,571.5 674.5,571.5 682.5,571.5 690.5,571.5 698.5,571.5 706.5,571.5 714.5,571.5 722.5,571.5 730.5,543.5 738.5,528.5 746.5,527.5 754.5,524.5 762.5,524.5 770.5,522.5 778.5,519.5 786.5,519.5 794.5,517.5 802.5,517.5 810.5,517.5 818.5,517.5 826.5,517.5 834.5,517.5 842.5,517.5 850.5,517.5 858.5,513.5 866.5,513.5 874.5,488.5 882.5,486.5 890.5,486.5 898.5,486.5 906.5,481.5 914.5,480.5 922.5,433.5 930.5,376.5 938.5,310.5 946.5,310.5 954.5,299.5 962.5,289.5 970.5,281.5 978.5,238.5 986.5,238.5 994.5,236.5 1002.5,236.5 1010.5,236.5 1018.5,236.5 1026.5,236.5 1034.5,236.5 1042.5,236.5 1050.5,236.5 1058.5,236.5 1066.5,236.5 1074.5,218.5 1082.5,200.5 1090.5,200.5 1098.5,197.5"/><polyline points="1.5,662.5 9.5,662.5 17.5,691.5 25.5,691.5 33.5,691.5 41.5,691.5 49.5,691.5 57.5,691.5 65.5,691.5 73.5,691.5 81.5,691.5 89.5,691.5 97.5,691.5 105.5,688.5 113.5,688.5 121.5,688.5 129.5,688.5 137.5,688.5 145.5,680.5 153.5,674.5 161.5,667.5 169.5,667.5 177.5,667.5 185.5,667.5 193.5,667.5 201.5,667.5 209.5,667.5 217.5,667.5 225.5,658.5 233.5,621.5 241.5,621.5 249.5,616.5 257.5,609.5 265.5,601.5 273.5,601.5 281.5,566.5 289.5,556.5 297.5,553.5 305.5,550.5 313.5,536.5 321.5,536.5 329.5,533.5 337.5,533.5 345.5,527.5 353.5,527.5 361.5,527.5 369.5,527.5 377.5,527.5 385.5,527.5 393.5,527.5 401.5,527.5 409.5,527.5 417.5,527.5 425.5,527.5 433.5,520.5 441.5,516.5 449.5,512.5 457.5,510.5 465.5,510.5 473.5,510.5 481.5,510.5 489.5,529.5 497.5,537.5 505.5,544.5 513.5,546.5 521.5,550.5 529.5,550.5 537.5,553.5 545.5,553.5 553.5,553.5 561.5,554.5 569.5,572.5 577.5,572.5 585.5,572.5 593.5,572.5 601.5,572.5 609.5,572.5 617.5,572.5 625.5,572.5 633.5,572.5 641.5,572.5 649.5,572.5 657.5,572.5 665.5,572.5 673.5,572.5 681.5,572.5 689.5,572.5 697.5,572.5 705.5,572.5 713.5,572.5 721.5,572.5 729.5,544.5 737.5,529.5 745.5,528.5 753.5,525.5 761.5,525.5 769.5,523.5 777.5,520.5 785.5,520.5 793.5,518.5 801.5,518.5 809.5,518.5 817.5,518.5 825.5,518.5 833.5,518.5 841.5,518.5 849.5,518.5 857.5,514.5 865.5,514.5 873.5,489.5 881.5,487.5 889.5,487.5 897.5,487.5 905.5,482.5 913.5,481.5 921.5,434.5 929.5,377.5 937.5,311.5 945.5,311.5 953.5,300.5 961.5,290.5 969.5,282.5 977.5,239.5 985.5,239.5 993.5,237.5 1001.5,237.5 1009.5,237.5 1017.5,237.5 1025.5,237.5 1033.5,237.5 1041.5,237.5 1049.5,237.5 1057.5,237.5 1065.5,237.5 1073.5,219.5 1081.5,201.5 1089.5,201.5 1097.5,198.5"/><polyline points="2.5,662.5 10.5,662.5 18.5,691.5 26.5,691.5 34.5,691.5 42.5,691.5 50.5,691.5 58.5,691.5 66.5,691.5 74.5,691.5 82.5,691.5 90.5,691.5 98.5,691.5 106.5,688.5 114.5,688.5 122.5,688.5 130.5,688.5 138.5,688.5 146.5,680.5 154.5,674.5 162.5,667.5 170.5,667.5 178.5,667.5 186.5,667.5 194.5,667.5 202.5,667.5 210.5,667.5 218.5,667.5 226.5,658.5 234.5,621.5 242.5,621.5 250.5,616.5 258.5,609.5 266.5,601.5 274.5,601.5 282.5,566.5 290.5,556.5 298.5,553.5 306.5,550.5 314.5,536.5 322.5,536.5 330.5,533.5 338.5,533.5 346.5,527.5 354.5,527.5 362.5,527.5 370.5,527.5 378.5,527.5 386.5,527.5 394.5,527.5 402.5,527.5 410.5,527.5 418.5,527.5 426.5,527.5 434.5,520.5 442.5,516.5 450.5,512.5 458.5,510.5 466.5,510.5 474.5,510.5 482.5,510.5 490.5,529.5 498.5,537.5 506.5,544.5 514.5,546.5 522.5,550.5 530.5,550.5 538.5,553.5 546.5,553.5 554.5,553.5 562.5,554.5 570.5,572.5 578.5,572.5 586.5,572.5 594.5,572.5 602.5,572.5 610.5,572.5 618.5,572.5 626.5,572.5 634.5,572.5 642.5,572.5 650.5,572.5 658.5,572.5 666.5,572.5 674.5,572.5 682.5,572.5 690.5,572.5 698.5,572.5 706.5,572.5 714.5,572.5 722.5,572.5 730.5,544.5 738.5,529.5 746.5,528.5 754.5,525.5 762.5,525.5 770.5,523.5 778.5,520.5 786.5,520.5 794.5,518.5 802.5,518.5 810.5,518.5 818.5,518.5 826.5,518.5 834.5,518.5 842.5,518.5 850.5,518.5 858.5,514.5 866.5,514.5 874.5,489.5 882.5,487.5 890.5,487.5 898.5,487.5 906.5,482.5 914.5,481.5 922.5,434.5 930.5,377.5 938.5,311.5 946.5,311.5 954.5,300.5 962.5,290.5 970.5,282.5 978.5,239.5 986.5,239.5 994.5,237.5 1002.5,237.5 1010.5,237.5 1018.5,237.5 1026.5,237.5 1034.5,237.5 1042.5,237.5 1050.5,237.5 1058.5,237.5 1066.5,237.5 1074.5,219.5 1082.5,201.5 1090.5,201.5 1098.5,198.5"/></g>
</g>
<g fill="none" stroke="#00ff00" stroke-width="1" stroke-linecap="square" stroke-linejoin="miter" shape-rendering="crispEdges" ><polyline points="1.5,582.5 9.5,597.5 17.5,598.5 25.5,585.5 33.5,585.5 41.5,561.5 49.5,548.5 57.5,548.5 65.5,563.5 73.5,474.5 81.5,466.5 89.5,473.5 97.5,463.5 105.5,500.5 113.5,537.5 121.5,523.5 129.5,511.5 137.5,512.5 145.5,486.5 153.5,515.5 161.5,542.5 169.5,576.5 177.5,563.5 185.5,550.5 193.5,555.5 201.5,550.5 209.5,544.5 217.5,523.5 225.5,541.5 233.5,549.5 241.5,555.5 249.5,555.5 257.5,559.5 265.5,543.5 273.5,552.5 281.5,615.5 289.5,622.5 297.5,618.5 305.5,581.5 313.5,546.5 321.5,527.5 329.5,578.5 337.5,578.5 345.5,577.5 353.5,590.5 361.5,582.5 369.5,584.5 377.5,572.5 385.5,580.5 393.5,598.5 401.5,573.5 409.5,572.5 417.5,582.5 425.5,567.5 433.5,570.5 441.5,575.5 449.5,581.5 457.5,570.5 465.5,598.5 473.5,541.5 481.5,534.5 489.5,592.5 497.5,583.5 505.5,588.5 513.5,538.5 521.5,467.5 529.5,441.5 537.5,435.5 545.5,422.5 553.5,438.5 561.5,425.5 569.5,416.5 577.5,416.5 585.5,419.5 593.5,426.5 601.5,424.5 609.5,435.5 617.5,439.5 625.5,425.5 633.5,422.5 641.5,454.5 649.5,435.5 657.5,415.5 665.5,352.5 673.5,359.5 681.5,378.5 689.5,356.5 697.5,363.5 705.5,339.5 713.5,277.5 721.5,224.5 729.5,181.5 737.5,186.5 745.5,148.5 753.5,118.5 761.5,103.5 769.5,29.5 777.5,55.5 785.5,51.5 793.5,64.5 801.5,46.5 809.5,66.5 817.5,66.5 825.5,52.5 833.5,76.5 841.5,95.5 849.5,61.5 857.5,40.5 865.5,42.5 873.5,52.5 881.5,81.5 889.5,89.5"/><polyline points="2.5,582.5 10.5,597.5 18.5,598.5 26.5,585.5 34.5,585.5 42.5,561.5 50.5,548.5 58.5,548.5 66.5,563.5 74.5,474.5 82.5,466.5 90.5,473.5 98.5,463.5 106.5,500.5 114.5,537.5 122.5,523.5 130.5,511.5 138.5,512.5 146.5,486.5 154.5,515.5 162.5,542.5 170.5,576.5 178.5,563.5 186.5,550.5 194.5,555.5 202.5,550.5 210.5,544.5 218.5,523.5 226.5,541.5 234.5,549.5 242.5,555.5 250.5,555.5 258.5,559.5 266.5,543.5 274.5,552.5 282.5,615.5 290.5,622.5 298.5,618.5 306.5,581.5 314.5,546.5 322.5,527.5 330.5,578.5 338.5,578.5 346.5,577.5 354.5,590.5 362.5,582.5 370.5,584.5 378.5,572.5 386.5,580.5 394.5,598.5 402.5,573.5 410.5,572.5 418.5,582.5 426.5,567.5 434.5,570.5 442.5,575.5 450.5,581.5 458.5,570.5 466.5,598.5 474.5,541.5 482.5,534.5 490.5,592.5 498.5,583.5 506.5,588.5 514.5,538.5 522.5,467.5 530.5,441.5 538.5,435.5 546.5,422.5 554.5,438.5 562.5,425.5 570.5,416.5 578.5,416.5 586.5,419.5 594.5,426.5 602.5,424.5 610.5,435.5 618.5,439.5 626.5,425.5 634.5,422.5 642.5,454.5 650.5,435.5 658.5,415.5 666.5,352.5 674.5,359.5 682.5,378.5 690.5,356.5 698.5,363.5 706.5,339.5 714.5,277.5 722.5,224.5 730.5,181.5 738.5,186.5 746.5,148.5 754.5,118.5 762.5,103.5 770.5,29.5 778.5,55.5 786.5,51.5 794.5,64.5 802.5,46.5 810.5,66.5 818.5,66.5 826.5,52.5 834.5,76.5 842.5,95.5 850.5,61.5 858.5,40.5 866.5,42.5 874.5,52.5 882.5,81.5 890.5,89.5"/><polyline points="1.5,583.5 9.5,598.5 17.5,599.5 25.5,586.5 33.5,586.5 41.5,562.5 49.5,549.5 57.5,549.5 65.5,564.5 73.5,475.5 81.5,467.5 89.5,474.5 97.5,464.5 105.5,501.5 113.5,538.5 121.5,524.5 129.5,512.5 137.5,513.5 145.5,487.5 153.5,516.5 161.5,543.5 169.5,577.5 177.5,564.5 185.5,551.5 193.5,556.5 201.5,551.5 209.5,545.5 217.5,524.5 225.5,542.5 233.5,550.5 241.5,556.5 249.5,556.5 257.5,560.5 265.5,544.5 273.5,553.5 281.5,616.5 289.5,623.5 297.5,619.5 305.5,582.5 313.5,547.5 321.5,528.5 329.5,579.5 337.5,579.5 345.5,578.5 353.5,591.5 361.5,583.5 369.5,585.5 377.5,573.5 385.5,581.5 393.5,599.5 401.5,574.5 409.5,573.5 417.5,583.5 425.5,568.5 433.5,571.5 441.5,576.5 449.5,582.5 457.5,571.5 465.5,599.5 473.5,542.5 481.5,535.5 489.5,593.5 497.5,584.5 505.5,589.5 513.5,539.5 521.5,468.5 529.5,442.5 537.5,436.5 545.5,423.5 553.5,439.5 561.5,426.5 569.5,417.5 577.5,417.5 585.5,420.5 593.5,427.5 601.5,425.5 609.5,436.5 617.5,440.5 625.5,426.5 633.5,423.5 641.5,455.5 649.5,436.5 657.5,416.5 665.5,353.5 673.5,360.5 681.5,379.5 689.5,357.5 697.5,364.5 705.5,340.5 713.5,278.5 721.5,225.5 729.5,182.5 737.5,187.5 745.5,149.5 753.5,119.5 761.5,104.5 769.5,30.5 777.5,56.5 785.5,52.5 793.5,65.5 801.5,47.5 809.5,67.5 817.5,67.5 825.5,53.5 833.5,77.5 841.5,96.5 849.5,62.5 857.5,41.5 865.5,43.5 873.5,53.5 881.5,82.5 889.5,90.5"/><polyline points="2.5,583.5 10.5,598.5 18.5,599.5 26.5,586.5 34.5,586.5 42.5,562.5 50.5,549.5 58.5,549.5 66.5,564.5 74.5,475.5 82.5,467.5 90.5,474.5 98.5,464.5 106.5,501.5 114.5,538.5 122.5,524.5 130.5,512.5 138.5,513.5 146.5,487.5 154.5,516.5 162.5,543.5 170.5,577.5 178.5,564.5 186.5,551.5 194.5,556.5 202.5,551.5 210.5,545.5 218.5,524.5 226.5,542.5 234.5,550.5 242.5,556.5 250.5,556.5 258.5,560.5 266.5,544.5 274.5,553.5 282.5,616.5 290.5,623.5 298.5,619.5 306.5,582.5 314.5,547.5 322.5,528.5 330.5,579.5 338.5,579.5 346.5,578.5 354.5,591.5 362.5,583.5 370.5,585.5 378.5,573.5 386.5,581.5 394.5,599.5 402.5,574.5 410.5,573.5 418.5,583.5 426.5,568.5 434.5,571.5 442.5,576.5 450.5,582.5 458.5,571.5 466.5,599.5 474.5,542.5 482.5,535.5 490.5,593.5 498.5,584.5 506.5,589.5 514.5,539.5 522.5,468.5 530.5,442.5 538.5,436.5 546.5,423.5 554.5,439.5 562.5,426.5 570.5,417.5 578.5,417.5 586.5,420.5 594.5,427.5 602.5,425.5 610.5,436.5 618.5,440.5 626.5,426.5 634.5,423.5 642.5,455.5 650.5,436.5 658.5,416.5 666.5,353.5 674.5,360.5 682.5,379.5 690.5,357.5 698.5,364.5 706.5,340.5 714.5,278.5 722.5,225.5 730.5,182.5 738.5,187.5 746.5,149.5 754.5,119.5 762.5,104.5 770.5,30.5 778.5,56.5 786.5,52.5 794.5,65.5 802.5,47.5 810.5,67.5 818.5,67.5 826.5,53.5 834.5,77.5 842.5,96.5 850.5,62.5 858.5,41.5 866.5,43.5 874.5,53.5 882.5,82.5 890.5,90.5"/></g>
</g>
<path d="M745 504H796V505H797V546H796V547H745V546H744V505H745ZM749 509V542H792V509Z" fill="#ff33ff" fill-rule="evenodd" shape-rendering="crispEdges"/>
<rect x="1127" y="3" width="100" height="22" fill="#fff" shape-rendering="crispEdges"/>
<rect x="976" y="3" width="5" height="776" fill="#8a2be2" shape-rendering="crispEdges"/>
<path d="M1114.1 65.2L1122.3 72.3H1117.75V83.2H1110.4V72.3H1105.9Z" fill="none" stroke="#3ccd32" stroke-width="1.15"/>
<path d="M1109.95 94.7H1116.95V105.3H1121.6L1113.55 112.7L1105.5 105.3H1109.95Z" fill="none" stroke="#ff1a1a" stroke-width="1.25"/>
<g shape-rendering="crispEdges" fill="#000">
<rect x="2" y="2" width="1226" height="1"/><rect x="2" y="2" width="1" height="778"/><rect x="1227" y="2" width="1" height="778"/><rect x="2" y="779" width="1226" height="1"/>
<rect x="1228" y="13" width="4" height="1"/><rect x="1228" y="45" width="4" height="1"/><rect x="1228" y="77" width="4" height="1"/><rect x="1228" y="109" width="4" height="1"/><rect x="1228" y="141" width="4" height="1"/><rect x="1228" y="173" width="4" height="1"/><rect x="1228" y="205" width="4" height="1"/><rect x="1228" y="236" width="4" height="1"/><rect x="1228" y="268" width="4" height="1"/><rect x="1228" y="300" width="4" height="1"/><rect x="1228" y="332" width="4" height="1"/><rect x="1228" y="364" width="4" height="1"/><rect x="1228" y="396" width="4" height="1"/><rect x="1228" y="428" width="4" height="1"/><rect x="1228" y="460" width="4" height="1"/><rect x="1228" y="492" width="4" height="1"/><rect x="1228" y="524" width="4" height="1"/><rect x="1228" y="556" width="4" height="1"/><rect x="1228" y="588" width="4" height="1"/><rect x="1228" y="619" width="4" height="1"/><rect x="1228" y="651" width="4" height="1"/><rect x="1228" y="683" width="4" height="1"/><rect x="1228" y="715" width="4" height="1"/><rect x="1228" y="747" width="4" height="1"/>
<rect x="2" y="780" width="1" height="4"/><rect x="66" y="780" width="1" height="4"/><rect x="130" y="780" width="1" height="4"/><rect x="194" y="780" width="1" height="4"/><rect x="258" y="780" width="1" height="4"/><rect x="322" y="780" width="1" height="4"/><rect x="386" y="780" width="1" height="4"/><rect x="450" y="780" width="1" height="4"/><rect x="514" y="780" width="1" height="4"/><rect x="578" y="780" width="1" height="4"/><rect x="642" y="780" width="1" height="4"/><rect x="706" y="780" width="1" height="4"/><rect x="770" y="780" width="1" height="4"/><rect x="834" y="780" width="1" height="4"/><rect x="898" y="780" width="1" height="4"/><rect x="962" y="780" width="1" height="4"/><rect x="1026" y="780" width="1" height="4"/><rect x="1090" y="780" width="1" height="4"/>
</g>
<g opacity="0.999">
<text transform="translate(1233.6,17) scale(0.862,1)">1.36840</text><text transform="translate(1233.6,49) scale(0.862,1)">1.36695</text><text transform="translate(1233.6,81) scale(0.862,1)">1.36550</text><text transform="translate(1233.6,113) scale(0.862,1)">1.36405</text><text transform="translate(1233.6,145) scale(0.862,1)">1.36260</text><text transform="translate(1233.6,177) scale(0.862,1)">1.36115</text><text transform="translate(1233.6,209) scale(0.862,1)">1.35970</text><text transform="translate(1233.6,240) scale(0.862,1)">1.35825</text><text transform="translate(1233.6,272) scale(0.862,1)">1.35680</text><text transform="translate(1233.6,304) scale(0.862,1)">1.35535</text><text transform="translate(1233.6,336) scale(0.862,1)">1.35390</text><text transform="translate(1233.6,368) scale(0.862,1)">1.35245</text><text transform="translate(1233.6,400) scale(0.862,1)">1.35100</text><text transform="translate(1233.6,432) scale(0.862,1)">1.34955</text><text transform="translate(1233.6,464) scale(0.862,1)">1.34810</text><text transform="translate(1233.6,496) scale(0.862,1)">1.34665</text><text transform="translate(1233.6,528) scale(0.862,1)">1.34520</text><text transform="translate(1233.6,560) scale(0.862,1)">1.34375</text><text transform="translate(1233.6,592) scale(0.862,1)">1.34230</text><text transform="translate(1233.6,623) scale(0.862,1)">1.34085</text><text transform="translate(1233.6,655) scale(0.862,1)">1.33940</text><text transform="translate(1233.6,687) scale(0.862,1)">1.33795</text><text transform="translate(1233.6,719) scale(0.862,1)">1.33650</text><text transform="translate(1233.6,751) scale(0.862,1)">1.33505</text>
<text transform="translate(2.6,792) scale(0.862,1)">16 Jan 2026</text><text transform="translate(66.6,792) scale(0.862,1)">19 Jan 06:00</text><text transform="translate(130.6,792) scale(0.862,1)">19 Jan 14:00</text><text transform="translate(194.6,792) scale(0.862,1)">19 Jan 22:00</text><text transform="translate(258.6,792) scale(0.862,1)">20 Jan 06:00</text><text transform="translate(322.6,792) scale(0.862,1)">20 Jan 14:00</text><text transform="translate(386.6,792) scale(0.862,1)">20 Jan 22:00</text><text transform="translate(450.6,792) scale(0.862,1)">21 Jan 06:00</text><text transform="translate(514.6,792) scale(0.862,1)">21 Jan 14:00</text><text transform="translate(578.6,792) scale(0.862,1)">21 Jan 22:00</text><text transform="translate(642.6,792) scale(0.862,1)">22 Jan 06:00</text><text transform="translate(706.6,792) scale(0.862,1)">22 Jan 14:00</text><text transform="translate(770.6,792) scale(0.862,1)">22 Jan 22:00</text><text transform="translate(834.6,792) scale(0.862,1)">23 Jan 06:00</text><text transform="translate(898.6,792) scale(0.862,1)" style="word-spacing:0.4px">23 Jan 14:00</text><text transform="translate(962.6,792) scale(0.862,1)">23 Jan 22:00</text><text transform="translate(1026.6,792) scale(0.862,1)">26 Jan 06:00</text><text transform="translate(1090.6,792) scale(0.862,1)">26 Jan 14:00</text>
<rect x="1230" y="85" width="39" height="11" fill="#cc0000"/><text class="wt" transform="translate(1233.6,94) scale(0.862,1)">1.36491</text>
<rect x="939" y="784" width="78" height="11" fill="#8a2be2"/><text class="wt" transform="translate(941.6,793) scale(0.872,1)" style="word-spacing:2px">2026.01.26 00:00</text>
</g>
</svg>
</body></html>
